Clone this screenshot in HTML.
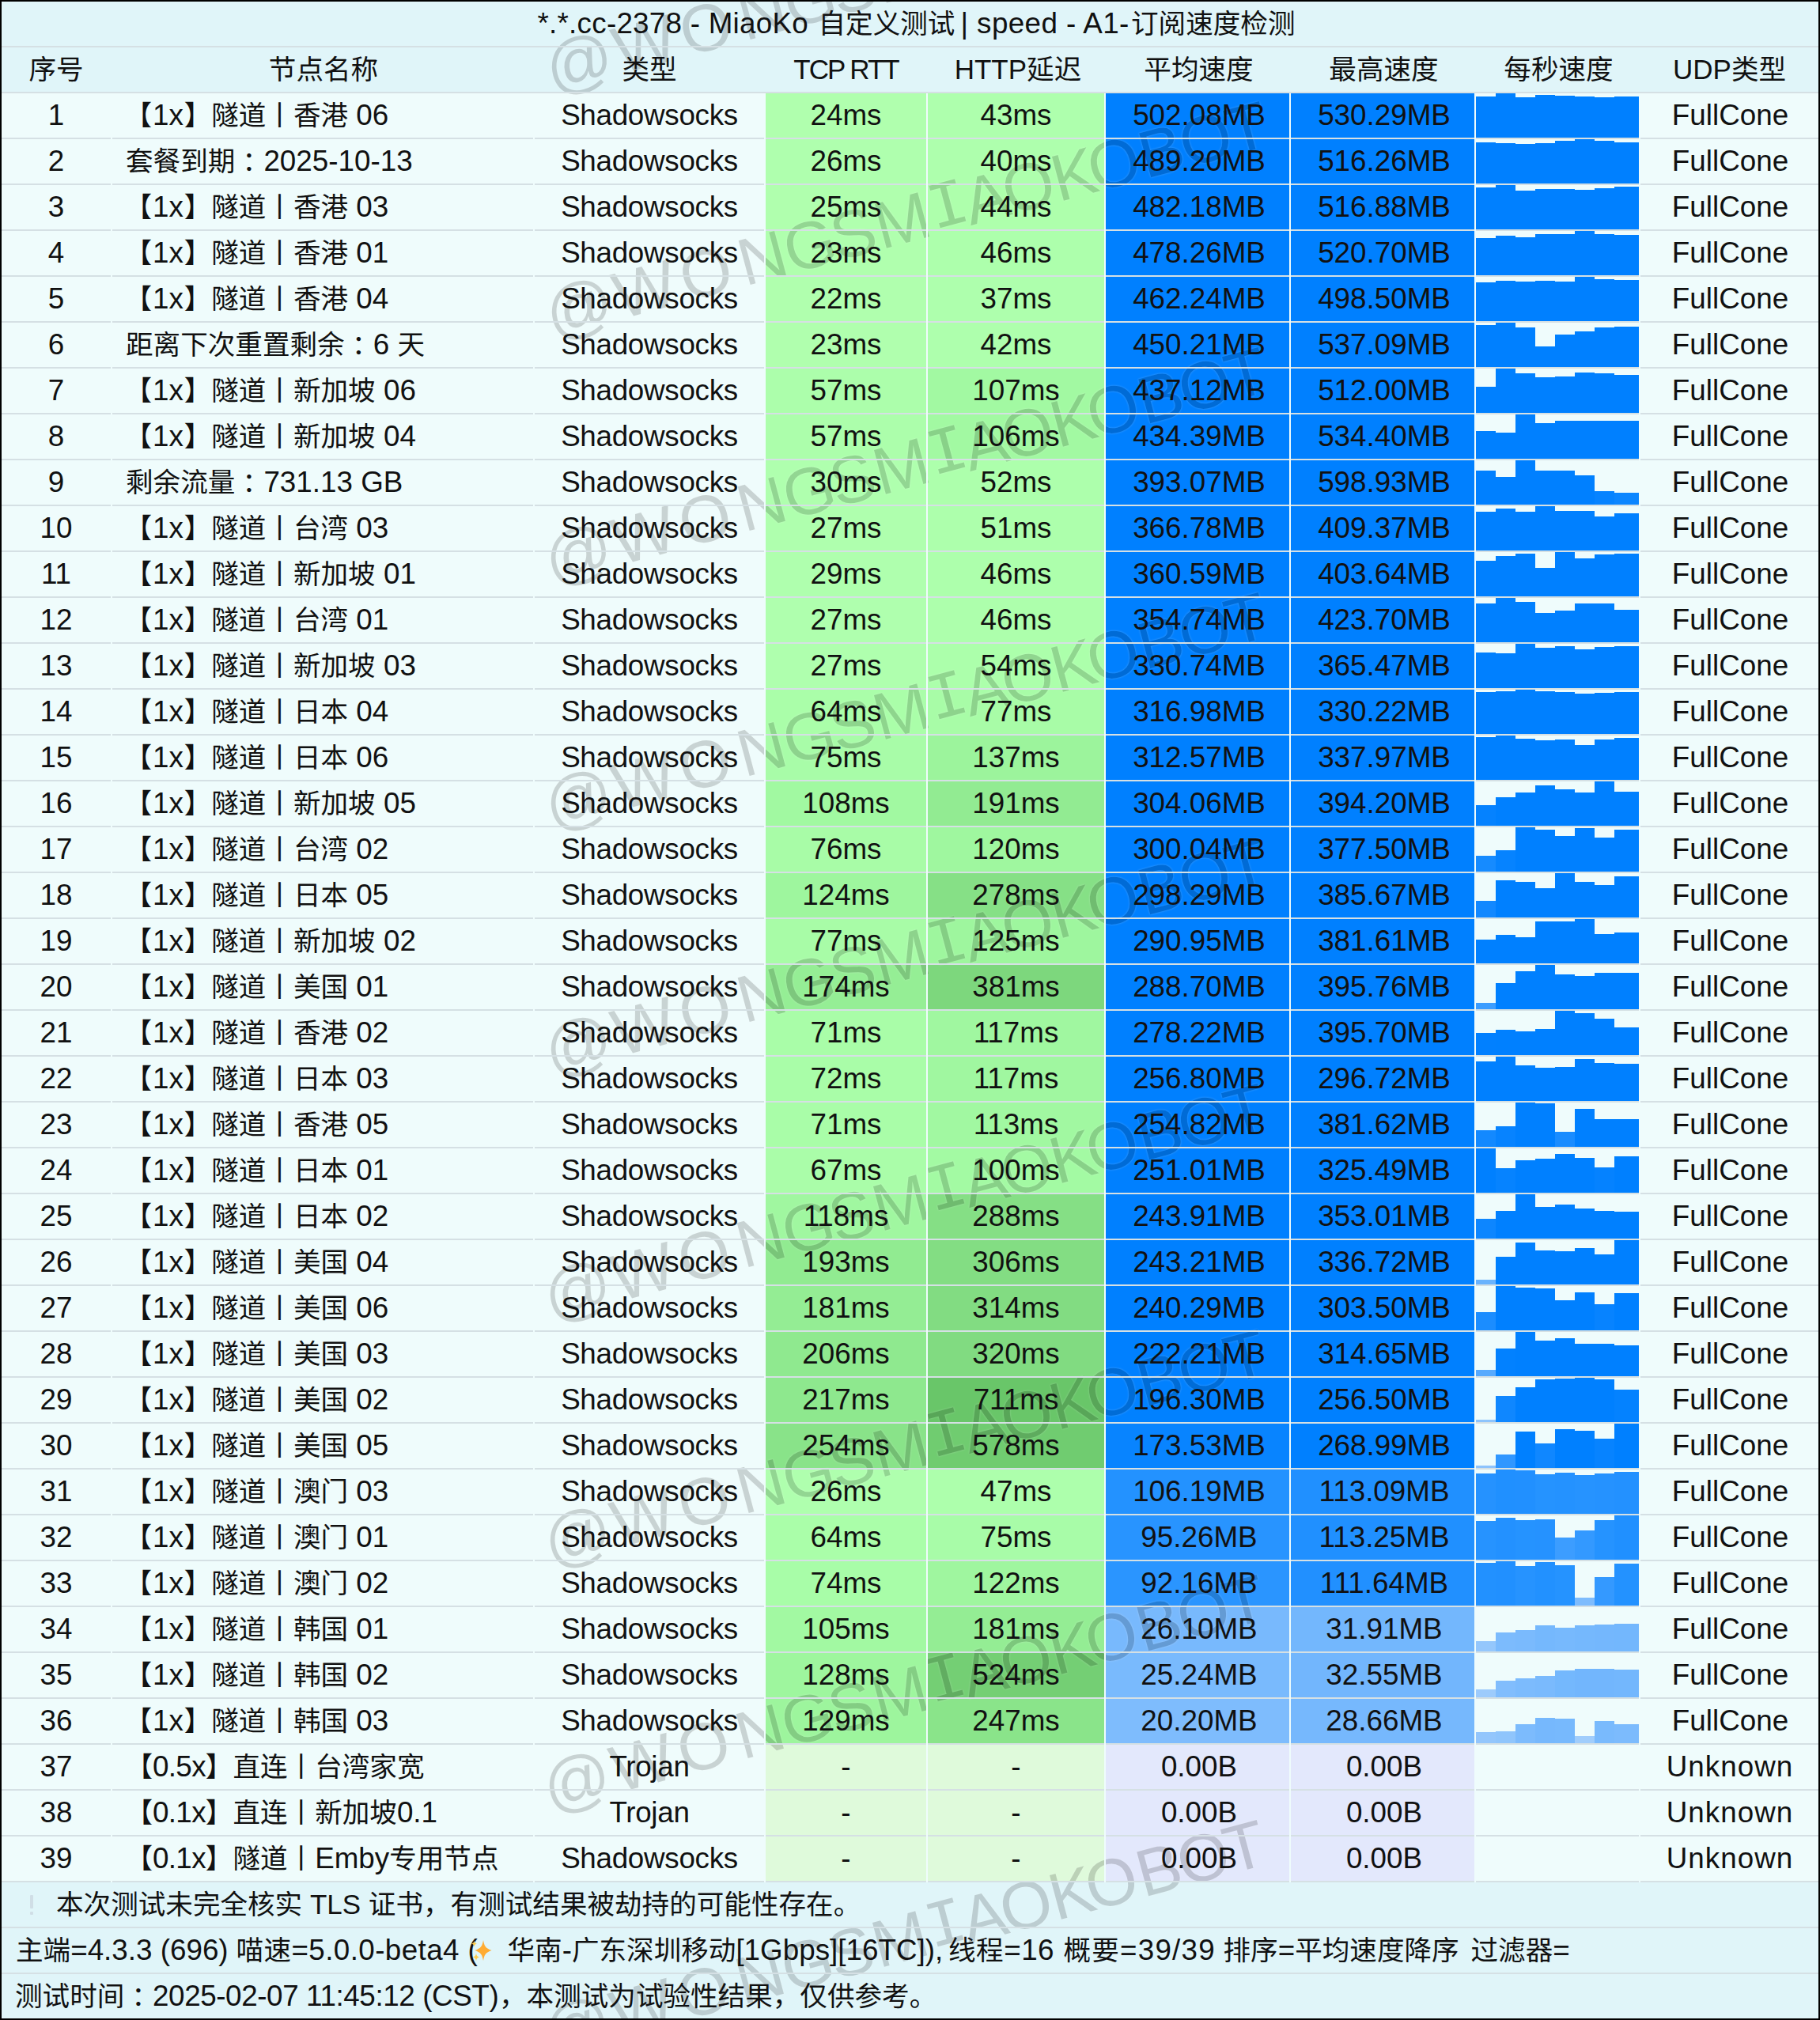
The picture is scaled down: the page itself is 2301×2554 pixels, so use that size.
<!DOCTYPE html><html lang="zh"><head><meta charset="utf-8"><title>MiaoKo speed</title><style>
html,body{margin:0;padding:0}
body{width:2301px;height:2554px;background:#000;position:relative;overflow:hidden;font-family:"Liberation Sans","Noto Sans CJK SC",sans-serif;font-size:35px;color:#111}
#p{position:absolute;left:2px;top:2px;width:2297px;height:2550px;background:#e0f5f9;overflow:hidden}
#p div{position:absolute}
.rb{left:0;width:2297px;height:58px;background:#effcfc}
.hl{left:0;width:2297px;height:2px;background:#d5e0e4}
.vl{top:116px;height:2262px;width:2px;background:#effcfc}
.c{height:56px}
.b{width:25px}
.t{height:58px;line-height:58px;font-size:34.6px;white-space:pre;text-align:center}
.l{font-size:36.8px;line-height:0}
.lh{font-size:35px;line-height:0}
.cn{position:relative;left:9px;margin-right:1.5px}
.f{margin:0 .8px}
.g{letter-spacing:-.7px}
.n{text-align:left}
.wm{width:0;height:100px;line-height:100px;font-size:84px;color:#000;text-shadow:0 0 2px #fff,0 0 3px #fff;opacity:.155;transform-origin:0 50%;transform:rotate(-15deg);white-space:pre;font-family:"Liberation Sans",sans-serif}
.wm span{position:absolute;top:0;width:120px;margin-left:-60px;text-align:center}
</style></head><body><div id="p">
<div class="rb" style="top:115px;height:2262px"></div>
<div class="c" style="left:966px;top:116px;width:203px;background:#b0ffae"></div>
<div class="c" style="left:1171px;top:116px;width:223px;background:#aeffad"></div>
<div class="c" style="left:1396px;top:116px;width:232px;background:#0080ff"></div>
<div class="c" style="left:1630px;top:116px;width:232px;background:#0080ff"></div>
<div class="b" style="left:1864px;top:120px;width:25px;height:52px;background:#0080ff"></div>
<div class="b" style="left:1889px;top:116px;width:25px;height:56px;background:#0080ff"></div>
<div class="b" style="left:1914px;top:121px;width:25px;height:51px;background:#0080ff"></div>
<div class="b" style="left:1939px;top:118px;width:25px;height:54px;background:#0080ff"></div>
<div class="b" style="left:1964px;top:119px;width:25px;height:53px;background:#0080ff"></div>
<div class="b" style="left:1989px;top:120px;width:25px;height:52px;background:#0080ff"></div>
<div class="b" style="left:2014px;top:121px;width:25px;height:51px;background:#0080ff"></div>
<div class="b" style="left:2039px;top:120px;width:31px;height:52px;background:#0080ff"></div>
<div class="c" style="left:966px;top:174px;width:203px;background:#afffae"></div>
<div class="c" style="left:1171px;top:174px;width:223px;background:#aeffad"></div>
<div class="c" style="left:1396px;top:174px;width:232px;background:#0080ff"></div>
<div class="c" style="left:1630px;top:174px;width:232px;background:#0080ff"></div>
<div class="b" style="left:1864px;top:178px;width:25px;height:52px;background:#0080ff"></div>
<div class="b" style="left:1889px;top:179px;width:25px;height:51px;background:#0080ff"></div>
<div class="b" style="left:1914px;top:180px;width:25px;height:50px;background:#0080ff"></div>
<div class="b" style="left:1939px;top:179px;width:25px;height:51px;background:#0080ff"></div>
<div class="b" style="left:1964px;top:176px;width:25px;height:54px;background:#0080ff"></div>
<div class="b" style="left:1989px;top:174px;width:25px;height:56px;background:#0080ff"></div>
<div class="b" style="left:2014px;top:176px;width:25px;height:54px;background:#0080ff"></div>
<div class="b" style="left:2039px;top:178px;width:31px;height:52px;background:#0080ff"></div>
<div class="c" style="left:966px;top:232px;width:203px;background:#b0ffae"></div>
<div class="c" style="left:1171px;top:232px;width:223px;background:#aeffac"></div>
<div class="c" style="left:1396px;top:232px;width:232px;background:#0080ff"></div>
<div class="c" style="left:1630px;top:232px;width:232px;background:#0080ff"></div>
<div class="b" style="left:1864px;top:235px;width:25px;height:53px;background:#0080ff"></div>
<div class="b" style="left:1889px;top:232px;width:25px;height:56px;background:#0080ff"></div>
<div class="b" style="left:1914px;top:239px;width:25px;height:49px;background:#0080ff"></div>
<div class="b" style="left:1939px;top:237px;width:25px;height:51px;background:#0080ff"></div>
<div class="b" style="left:1964px;top:237px;width:25px;height:51px;background:#0080ff"></div>
<div class="b" style="left:1989px;top:238px;width:25px;height:50px;background:#0080ff"></div>
<div class="b" style="left:2014px;top:236px;width:25px;height:52px;background:#0080ff"></div>
<div class="b" style="left:2039px;top:234px;width:31px;height:54px;background:#0080ff"></div>
<div class="c" style="left:966px;top:290px;width:203px;background:#b0ffae"></div>
<div class="c" style="left:1171px;top:290px;width:223px;background:#adffac"></div>
<div class="c" style="left:1396px;top:290px;width:232px;background:#0080ff"></div>
<div class="c" style="left:1630px;top:290px;width:232px;background:#0080ff"></div>
<div class="b" style="left:1864px;top:299px;width:25px;height:47px;background:#0080ff"></div>
<div class="b" style="left:1889px;top:296px;width:25px;height:50px;background:#0080ff"></div>
<div class="b" style="left:1914px;top:298px;width:25px;height:48px;background:#0080ff"></div>
<div class="b" style="left:1939px;top:294px;width:25px;height:52px;background:#0080ff"></div>
<div class="b" style="left:1964px;top:294px;width:25px;height:52px;background:#0080ff"></div>
<div class="b" style="left:1989px;top:290px;width:25px;height:56px;background:#0080ff"></div>
<div class="b" style="left:2014px;top:294px;width:25px;height:52px;background:#0080ff"></div>
<div class="b" style="left:2039px;top:295px;width:31px;height:51px;background:#0080ff"></div>
<div class="c" style="left:966px;top:348px;width:203px;background:#b0ffae"></div>
<div class="c" style="left:1171px;top:348px;width:223px;background:#aeffad"></div>
<div class="c" style="left:1396px;top:348px;width:232px;background:#0080ff"></div>
<div class="c" style="left:1630px;top:348px;width:232px;background:#0080ff"></div>
<div class="b" style="left:1864px;top:355px;width:25px;height:49px;background:#0080ff"></div>
<div class="b" style="left:1889px;top:353px;width:25px;height:51px;background:#0080ff"></div>
<div class="b" style="left:1914px;top:354px;width:25px;height:50px;background:#0080ff"></div>
<div class="b" style="left:1939px;top:353px;width:25px;height:51px;background:#0080ff"></div>
<div class="b" style="left:1964px;top:354px;width:25px;height:50px;background:#0080ff"></div>
<div class="b" style="left:1989px;top:348px;width:25px;height:56px;background:#0080ff"></div>
<div class="b" style="left:2014px;top:351px;width:25px;height:53px;background:#0080ff"></div>
<div class="b" style="left:2039px;top:352px;width:31px;height:52px;background:#0080ff"></div>
<div class="c" style="left:966px;top:406px;width:203px;background:#b0ffae"></div>
<div class="c" style="left:1171px;top:406px;width:223px;background:#aeffad"></div>
<div class="c" style="left:1396px;top:406px;width:232px;background:#0080ff"></div>
<div class="c" style="left:1630px;top:406px;width:232px;background:#0080ff"></div>
<div class="b" style="left:1864px;top:409px;width:25px;height:53px;background:#0080ff"></div>
<div class="b" style="left:1889px;top:406px;width:25px;height:56px;background:#0080ff"></div>
<div class="b" style="left:1914px;top:412px;width:25px;height:50px;background:#0080ff"></div>
<div class="b" style="left:1939px;top:436px;width:25px;height:26px;background:#0080ff"></div>
<div class="b" style="left:1964px;top:421px;width:25px;height:41px;background:#0080ff"></div>
<div class="b" style="left:1989px;top:417px;width:25px;height:45px;background:#0080ff"></div>
<div class="b" style="left:2014px;top:412px;width:25px;height:50px;background:#0080ff"></div>
<div class="b" style="left:2039px;top:411px;width:31px;height:51px;background:#0080ff"></div>
<div class="c" style="left:966px;top:464px;width:203px;background:#acfeab"></div>
<div class="c" style="left:1171px;top:464px;width:223px;background:#a2f9a2"></div>
<div class="c" style="left:1396px;top:464px;width:232px;background:#0080ff"></div>
<div class="c" style="left:1630px;top:464px;width:232px;background:#0080ff"></div>
<div class="b" style="left:1864px;top:487px;width:25px;height:33px;background:#0080ff"></div>
<div class="b" style="left:1889px;top:464px;width:25px;height:56px;background:#0080ff"></div>
<div class="b" style="left:1914px;top:470px;width:25px;height:50px;background:#0080ff"></div>
<div class="b" style="left:1939px;top:475px;width:25px;height:45px;background:#0080ff"></div>
<div class="b" style="left:1964px;top:474px;width:25px;height:46px;background:#0080ff"></div>
<div class="b" style="left:1989px;top:469px;width:25px;height:51px;background:#0080ff"></div>
<div class="b" style="left:2014px;top:470px;width:25px;height:50px;background:#0080ff"></div>
<div class="b" style="left:2039px;top:472px;width:31px;height:48px;background:#0080ff"></div>
<div class="c" style="left:966px;top:522px;width:203px;background:#acfeab"></div>
<div class="c" style="left:1171px;top:522px;width:223px;background:#a2f9a2"></div>
<div class="c" style="left:1396px;top:522px;width:232px;background:#0080ff"></div>
<div class="c" style="left:1630px;top:522px;width:232px;background:#0080ff"></div>
<div class="b" style="left:1864px;top:543px;width:25px;height:35px;background:#0080ff"></div>
<div class="b" style="left:1889px;top:545px;width:25px;height:33px;background:#0080ff"></div>
<div class="b" style="left:1914px;top:522px;width:25px;height:56px;background:#0080ff"></div>
<div class="b" style="left:1939px;top:533px;width:25px;height:45px;background:#0080ff"></div>
<div class="b" style="left:1964px;top:530px;width:25px;height:48px;background:#0080ff"></div>
<div class="b" style="left:1989px;top:530px;width:25px;height:48px;background:#0080ff"></div>
<div class="b" style="left:2014px;top:530px;width:25px;height:48px;background:#0080ff"></div>
<div class="b" style="left:2039px;top:530px;width:31px;height:48px;background:#0080ff"></div>
<div class="c" style="left:966px;top:580px;width:203px;background:#afffae"></div>
<div class="c" style="left:1171px;top:580px;width:223px;background:#adffac"></div>
<div class="c" style="left:1396px;top:580px;width:232px;background:#0080ff"></div>
<div class="c" style="left:1630px;top:580px;width:232px;background:#0080ff"></div>
<div class="b" style="left:1864px;top:593px;width:25px;height:43px;background:#0080ff"></div>
<div class="b" style="left:1889px;top:601px;width:25px;height:35px;background:#0080ff"></div>
<div class="b" style="left:1914px;top:580px;width:25px;height:56px;background:#0080ff"></div>
<div class="b" style="left:1939px;top:593px;width:25px;height:43px;background:#0080ff"></div>
<div class="b" style="left:1964px;top:593px;width:25px;height:43px;background:#0080ff"></div>
<div class="b" style="left:1989px;top:599px;width:25px;height:37px;background:#0080ff"></div>
<div class="b" style="left:2014px;top:619px;width:25px;height:17px;background:#0683ff"></div>
<div class="b" style="left:2039px;top:621px;width:31px;height:15px;background:#0c86ff"></div>
<div class="c" style="left:966px;top:638px;width:203px;background:#afffae"></div>
<div class="c" style="left:1171px;top:638px;width:223px;background:#adffac"></div>
<div class="c" style="left:1396px;top:638px;width:232px;background:#0080ff"></div>
<div class="c" style="left:1630px;top:638px;width:232px;background:#0080ff"></div>
<div class="b" style="left:1864px;top:645px;width:25px;height:49px;background:#0080ff"></div>
<div class="b" style="left:1889px;top:641px;width:25px;height:53px;background:#0080ff"></div>
<div class="b" style="left:1914px;top:645px;width:25px;height:49px;background:#0080ff"></div>
<div class="b" style="left:1939px;top:638px;width:25px;height:56px;background:#0080ff"></div>
<div class="b" style="left:1964px;top:644px;width:25px;height:50px;background:#0080ff"></div>
<div class="b" style="left:1989px;top:644px;width:25px;height:50px;background:#0080ff"></div>
<div class="b" style="left:2014px;top:651px;width:25px;height:43px;background:#0080ff"></div>
<div class="b" style="left:2039px;top:647px;width:31px;height:47px;background:#0080ff"></div>
<div class="c" style="left:966px;top:696px;width:203px;background:#afffae"></div>
<div class="c" style="left:1171px;top:696px;width:223px;background:#adffac"></div>
<div class="c" style="left:1396px;top:696px;width:232px;background:#0080ff"></div>
<div class="c" style="left:1630px;top:696px;width:232px;background:#0080ff"></div>
<div class="b" style="left:1864px;top:707px;width:25px;height:45px;background:#0080ff"></div>
<div class="b" style="left:1889px;top:701px;width:25px;height:51px;background:#0080ff"></div>
<div class="b" style="left:1914px;top:698px;width:25px;height:54px;background:#0080ff"></div>
<div class="b" style="left:1939px;top:716px;width:25px;height:36px;background:#0080ff"></div>
<div class="b" style="left:1964px;top:696px;width:25px;height:56px;background:#0080ff"></div>
<div class="b" style="left:1989px;top:704px;width:25px;height:48px;background:#0080ff"></div>
<div class="b" style="left:2014px;top:699px;width:25px;height:53px;background:#0080ff"></div>
<div class="b" style="left:2039px;top:698px;width:31px;height:54px;background:#0080ff"></div>
<div class="c" style="left:966px;top:754px;width:203px;background:#afffae"></div>
<div class="c" style="left:1171px;top:754px;width:223px;background:#adffac"></div>
<div class="c" style="left:1396px;top:754px;width:232px;background:#0080ff"></div>
<div class="c" style="left:1630px;top:754px;width:232px;background:#0080ff"></div>
<div class="b" style="left:1864px;top:761px;width:25px;height:49px;background:#0080ff"></div>
<div class="b" style="left:1889px;top:754px;width:25px;height:56px;background:#0080ff"></div>
<div class="b" style="left:1914px;top:759px;width:25px;height:51px;background:#0080ff"></div>
<div class="b" style="left:1939px;top:773px;width:25px;height:37px;background:#0080ff"></div>
<div class="b" style="left:1964px;top:770px;width:25px;height:40px;background:#0080ff"></div>
<div class="b" style="left:1989px;top:761px;width:25px;height:49px;background:#0080ff"></div>
<div class="b" style="left:2014px;top:761px;width:25px;height:49px;background:#0080ff"></div>
<div class="b" style="left:2039px;top:769px;width:31px;height:41px;background:#0080ff"></div>
<div class="c" style="left:966px;top:812px;width:203px;background:#afffae"></div>
<div class="c" style="left:1171px;top:812px;width:223px;background:#acffab"></div>
<div class="c" style="left:1396px;top:812px;width:232px;background:#0080ff"></div>
<div class="c" style="left:1630px;top:812px;width:232px;background:#0080ff"></div>
<div class="b" style="left:1864px;top:823px;width:25px;height:45px;background:#0080ff"></div>
<div class="b" style="left:1889px;top:824px;width:25px;height:44px;background:#0080ff"></div>
<div class="b" style="left:1914px;top:812px;width:25px;height:56px;background:#0080ff"></div>
<div class="b" style="left:1939px;top:817px;width:25px;height:51px;background:#0080ff"></div>
<div class="b" style="left:1964px;top:815px;width:25px;height:53px;background:#0080ff"></div>
<div class="b" style="left:1989px;top:819px;width:25px;height:49px;background:#0080ff"></div>
<div class="b" style="left:2014px;top:816px;width:25px;height:52px;background:#0080ff"></div>
<div class="b" style="left:2039px;top:815px;width:31px;height:53px;background:#0080ff"></div>
<div class="c" style="left:966px;top:870px;width:203px;background:#aafea9"></div>
<div class="c" style="left:1171px;top:870px;width:223px;background:#a8fca7"></div>
<div class="c" style="left:1396px;top:870px;width:232px;background:#0080ff"></div>
<div class="c" style="left:1630px;top:870px;width:232px;background:#0080ff"></div>
<div class="b" style="left:1864px;top:873px;width:25px;height:53px;background:#0080ff"></div>
<div class="b" style="left:1889px;top:872px;width:25px;height:54px;background:#0080ff"></div>
<div class="b" style="left:1914px;top:870px;width:25px;height:56px;background:#0080ff"></div>
<div class="b" style="left:1939px;top:872px;width:25px;height:54px;background:#0080ff"></div>
<div class="b" style="left:1964px;top:873px;width:25px;height:53px;background:#0080ff"></div>
<div class="b" style="left:1989px;top:875px;width:25px;height:51px;background:#0080ff"></div>
<div class="b" style="left:2014px;top:874px;width:25px;height:52px;background:#0080ff"></div>
<div class="b" style="left:2039px;top:873px;width:31px;height:53px;background:#0080ff"></div>
<div class="c" style="left:966px;top:928px;width:203px;background:#a8fca8"></div>
<div class="c" style="left:1171px;top:928px;width:223px;background:#9cf49c"></div>
<div class="c" style="left:1396px;top:928px;width:232px;background:#0080ff"></div>
<div class="c" style="left:1630px;top:928px;width:232px;background:#0080ff"></div>
<div class="b" style="left:1864px;top:930px;width:25px;height:54px;background:#0080ff"></div>
<div class="b" style="left:1889px;top:928px;width:25px;height:56px;background:#0080ff"></div>
<div class="b" style="left:1914px;top:932px;width:25px;height:52px;background:#0080ff"></div>
<div class="b" style="left:1939px;top:934px;width:25px;height:50px;background:#0080ff"></div>
<div class="b" style="left:1964px;top:933px;width:25px;height:51px;background:#0080ff"></div>
<div class="b" style="left:1989px;top:940px;width:25px;height:44px;background:#0080ff"></div>
<div class="b" style="left:2014px;top:933px;width:25px;height:51px;background:#0080ff"></div>
<div class="b" style="left:2039px;top:931px;width:31px;height:53px;background:#0080ff"></div>
<div class="c" style="left:966px;top:986px;width:203px;background:#a1f9a1"></div>
<div class="c" style="left:1171px;top:986px;width:223px;background:#92eb92"></div>
<div class="c" style="left:1396px;top:986px;width:232px;background:#0080ff"></div>
<div class="c" style="left:1630px;top:986px;width:232px;background:#0080ff"></div>
<div class="b" style="left:1864px;top:1016px;width:25px;height:26px;background:#0582ff"></div>
<div class="b" style="left:1889px;top:1006px;width:25px;height:36px;background:#0080ff"></div>
<div class="b" style="left:1914px;top:1000px;width:25px;height:42px;background:#0080ff"></div>
<div class="b" style="left:1939px;top:991px;width:25px;height:51px;background:#0080ff"></div>
<div class="b" style="left:1964px;top:996px;width:25px;height:46px;background:#0080ff"></div>
<div class="b" style="left:1989px;top:1000px;width:25px;height:42px;background:#0080ff"></div>
<div class="b" style="left:2014px;top:986px;width:25px;height:56px;background:#0080ff"></div>
<div class="b" style="left:2039px;top:999px;width:31px;height:43px;background:#0080ff"></div>
<div class="c" style="left:966px;top:1044px;width:203px;background:#a8fca7"></div>
<div class="c" style="left:1171px;top:1044px;width:223px;background:#9ff79f"></div>
<div class="c" style="left:1396px;top:1044px;width:232px;background:#0080ff"></div>
<div class="c" style="left:1630px;top:1044px;width:232px;background:#0080ff"></div>
<div class="b" style="left:1864px;top:1080px;width:25px;height:20px;background:#168bff"></div>
<div class="b" style="left:1889px;top:1073px;width:25px;height:27px;background:#0683ff"></div>
<div class="b" style="left:1914px;top:1044px;width:25px;height:56px;background:#0080ff"></div>
<div class="b" style="left:1939px;top:1047px;width:25px;height:53px;background:#0080ff"></div>
<div class="b" style="left:1964px;top:1055px;width:25px;height:45px;background:#0080ff"></div>
<div class="b" style="left:1989px;top:1045px;width:25px;height:55px;background:#0080ff"></div>
<div class="b" style="left:2014px;top:1057px;width:25px;height:43px;background:#0080ff"></div>
<div class="b" style="left:2039px;top:1047px;width:31px;height:53px;background:#0080ff"></div>
<div class="c" style="left:966px;top:1102px;width:203px;background:#9ef69e"></div>
<div class="c" style="left:1171px;top:1102px;width:223px;background:#86e086"></div>
<div class="c" style="left:1396px;top:1102px;width:232px;background:#0080ff"></div>
<div class="c" style="left:1630px;top:1102px;width:232px;background:#0080ff"></div>
<div class="b" style="left:1864px;top:1137px;width:25px;height:21px;background:#1288ff"></div>
<div class="b" style="left:1889px;top:1111px;width:25px;height:47px;background:#0080ff"></div>
<div class="b" style="left:1914px;top:1113px;width:25px;height:45px;background:#0080ff"></div>
<div class="b" style="left:1939px;top:1121px;width:25px;height:37px;background:#0080ff"></div>
<div class="b" style="left:1964px;top:1102px;width:25px;height:56px;background:#0080ff"></div>
<div class="b" style="left:1989px;top:1113px;width:25px;height:45px;background:#0080ff"></div>
<div class="b" style="left:2014px;top:1117px;width:25px;height:41px;background:#0080ff"></div>
<div class="b" style="left:2039px;top:1106px;width:31px;height:52px;background:#0080ff"></div>
<div class="c" style="left:966px;top:1160px;width:203px;background:#a8fca7"></div>
<div class="c" style="left:1171px;top:1160px;width:223px;background:#9ef69e"></div>
<div class="c" style="left:1396px;top:1160px;width:232px;background:#0080ff"></div>
<div class="c" style="left:1630px;top:1160px;width:232px;background:#0080ff"></div>
<div class="b" style="left:1864px;top:1186px;width:25px;height:30px;background:#0080ff"></div>
<div class="b" style="left:1889px;top:1180px;width:25px;height:36px;background:#0080ff"></div>
<div class="b" style="left:1914px;top:1183px;width:25px;height:33px;background:#0080ff"></div>
<div class="b" style="left:1939px;top:1163px;width:25px;height:53px;background:#0080ff"></div>
<div class="b" style="left:1964px;top:1163px;width:25px;height:53px;background:#0080ff"></div>
<div class="b" style="left:1989px;top:1160px;width:25px;height:56px;background:#0080ff"></div>
<div class="b" style="left:2014px;top:1179px;width:25px;height:37px;background:#0080ff"></div>
<div class="b" style="left:2039px;top:1177px;width:31px;height:39px;background:#0080ff"></div>
<div class="c" style="left:966px;top:1218px;width:203px;background:#95ee95"></div>
<div class="c" style="left:1171px;top:1218px;width:223px;background:#7dd77d"></div>
<div class="c" style="left:1396px;top:1218px;width:232px;background:#0080ff"></div>
<div class="c" style="left:1630px;top:1218px;width:232px;background:#0080ff"></div>
<div class="b" style="left:1864px;top:1266px;width:25px;height:8px;background:#3c9dff"></div>
<div class="b" style="left:1889px;top:1241px;width:25px;height:33px;background:#0080ff"></div>
<div class="b" style="left:1914px;top:1226px;width:25px;height:48px;background:#0080ff"></div>
<div class="b" style="left:1939px;top:1218px;width:25px;height:56px;background:#0080ff"></div>
<div class="b" style="left:1964px;top:1230px;width:25px;height:44px;background:#0080ff"></div>
<div class="b" style="left:1989px;top:1232px;width:25px;height:42px;background:#0080ff"></div>
<div class="b" style="left:2014px;top:1228px;width:25px;height:46px;background:#0080ff"></div>
<div class="b" style="left:2039px;top:1228px;width:31px;height:46px;background:#0080ff"></div>
<div class="c" style="left:966px;top:1276px;width:203px;background:#a9fda8"></div>
<div class="c" style="left:1171px;top:1276px;width:223px;background:#a0f7a0"></div>
<div class="c" style="left:1396px;top:1276px;width:232px;background:#0080ff"></div>
<div class="c" style="left:1630px;top:1276px;width:232px;background:#0080ff"></div>
<div class="b" style="left:1864px;top:1304px;width:25px;height:28px;background:#0180ff"></div>
<div class="b" style="left:1889px;top:1300px;width:25px;height:32px;background:#0080ff"></div>
<div class="b" style="left:1914px;top:1302px;width:25px;height:30px;background:#0080ff"></div>
<div class="b" style="left:1939px;top:1299px;width:25px;height:33px;background:#0080ff"></div>
<div class="b" style="left:1964px;top:1276px;width:25px;height:56px;background:#0080ff"></div>
<div class="b" style="left:1989px;top:1279px;width:25px;height:53px;background:#0080ff"></div>
<div class="b" style="left:2014px;top:1286px;width:25px;height:46px;background:#0080ff"></div>
<div class="b" style="left:2039px;top:1297px;width:31px;height:35px;background:#0080ff"></div>
<div class="c" style="left:966px;top:1334px;width:203px;background:#a9fda8"></div>
<div class="c" style="left:1171px;top:1334px;width:223px;background:#a0f7a0"></div>
<div class="c" style="left:1396px;top:1334px;width:232px;background:#0080ff"></div>
<div class="c" style="left:1630px;top:1334px;width:232px;background:#0080ff"></div>
<div class="b" style="left:1864px;top:1340px;width:25px;height:50px;background:#0080ff"></div>
<div class="b" style="left:1889px;top:1334px;width:25px;height:56px;background:#0080ff"></div>
<div class="b" style="left:1914px;top:1345px;width:25px;height:45px;background:#0080ff"></div>
<div class="b" style="left:1939px;top:1348px;width:25px;height:42px;background:#0080ff"></div>
<div class="b" style="left:1964px;top:1347px;width:25px;height:43px;background:#0080ff"></div>
<div class="b" style="left:1989px;top:1337px;width:25px;height:53px;background:#0080ff"></div>
<div class="b" style="left:2014px;top:1342px;width:25px;height:48px;background:#0080ff"></div>
<div class="b" style="left:2039px;top:1343px;width:31px;height:47px;background:#0080ff"></div>
<div class="c" style="left:966px;top:1392px;width:203px;background:#a9fda8"></div>
<div class="c" style="left:1171px;top:1392px;width:223px;background:#a1f8a1"></div>
<div class="c" style="left:1396px;top:1392px;width:232px;background:#0080ff"></div>
<div class="c" style="left:1630px;top:1392px;width:232px;background:#0080ff"></div>
<div class="b" style="left:1864px;top:1427px;width:25px;height:21px;background:#1389ff"></div>
<div class="b" style="left:1889px;top:1422px;width:25px;height:26px;background:#0783ff"></div>
<div class="b" style="left:1914px;top:1392px;width:25px;height:56px;background:#0080ff"></div>
<div class="b" style="left:1939px;top:1393px;width:25px;height:55px;background:#0080ff"></div>
<div class="b" style="left:1964px;top:1429px;width:25px;height:19px;background:#198cff"></div>
<div class="b" style="left:1989px;top:1400px;width:25px;height:48px;background:#0080ff"></div>
<div class="b" style="left:2014px;top:1413px;width:25px;height:35px;background:#0080ff"></div>
<div class="b" style="left:2039px;top:1413px;width:31px;height:35px;background:#0080ff"></div>
<div class="c" style="left:966px;top:1450px;width:203px;background:#aafda9"></div>
<div class="c" style="left:1171px;top:1450px;width:223px;background:#a3faa3"></div>
<div class="c" style="left:1396px;top:1450px;width:232px;background:#0080ff"></div>
<div class="c" style="left:1630px;top:1450px;width:232px;background:#0080ff"></div>
<div class="b" style="left:1864px;top:1450px;width:25px;height:56px;background:#0080ff"></div>
<div class="b" style="left:1889px;top:1475px;width:25px;height:31px;background:#0683ff"></div>
<div class="b" style="left:1914px;top:1465px;width:25px;height:41px;background:#0080ff"></div>
<div class="b" style="left:1939px;top:1463px;width:25px;height:43px;background:#0080ff"></div>
<div class="b" style="left:1964px;top:1457px;width:25px;height:49px;background:#0080ff"></div>
<div class="b" style="left:1989px;top:1462px;width:25px;height:44px;background:#0080ff"></div>
<div class="b" style="left:2014px;top:1474px;width:25px;height:32px;background:#0582ff"></div>
<div class="b" style="left:2039px;top:1460px;width:31px;height:46px;background:#0080ff"></div>
<div class="c" style="left:966px;top:1508px;width:203px;background:#a0f7a0"></div>
<div class="c" style="left:1171px;top:1508px;width:223px;background:#85df85"></div>
<div class="c" style="left:1396px;top:1508px;width:232px;background:#0080ff"></div>
<div class="c" style="left:1630px;top:1508px;width:232px;background:#0080ff"></div>
<div class="b" style="left:1864px;top:1539px;width:25px;height:25px;background:#0d86ff"></div>
<div class="b" style="left:1889px;top:1529px;width:25px;height:35px;background:#0080ff"></div>
<div class="b" style="left:1914px;top:1508px;width:25px;height:56px;background:#0080ff"></div>
<div class="b" style="left:1939px;top:1524px;width:25px;height:40px;background:#0080ff"></div>
<div class="b" style="left:1964px;top:1521px;width:25px;height:43px;background:#0080ff"></div>
<div class="b" style="left:1989px;top:1526px;width:25px;height:38px;background:#0080ff"></div>
<div class="b" style="left:2014px;top:1529px;width:25px;height:35px;background:#0080ff"></div>
<div class="b" style="left:2039px;top:1530px;width:31px;height:34px;background:#0080ff"></div>
<div class="c" style="left:966px;top:1566px;width:203px;background:#91eb91"></div>
<div class="c" style="left:1171px;top:1566px;width:223px;background:#83dd83"></div>
<div class="c" style="left:1396px;top:1566px;width:232px;background:#0080ff"></div>
<div class="c" style="left:1630px;top:1566px;width:232px;background:#0080ff"></div>
<div class="b" style="left:1864px;top:1616px;width:25px;height:6px;background:#6ab3fd"></div>
<div class="b" style="left:1889px;top:1587px;width:25px;height:35px;background:#0080ff"></div>
<div class="b" style="left:1914px;top:1569px;width:25px;height:53px;background:#0080ff"></div>
<div class="b" style="left:1939px;top:1579px;width:25px;height:43px;background:#0080ff"></div>
<div class="b" style="left:1964px;top:1580px;width:25px;height:42px;background:#0080ff"></div>
<div class="b" style="left:1989px;top:1576px;width:25px;height:46px;background:#0080ff"></div>
<div class="b" style="left:2014px;top:1584px;width:25px;height:38px;background:#0080ff"></div>
<div class="b" style="left:2039px;top:1566px;width:31px;height:56px;background:#0080ff"></div>
<div class="c" style="left:966px;top:1624px;width:203px;background:#94ed94"></div>
<div class="c" style="left:1171px;top:1624px;width:223px;background:#82dc82"></div>
<div class="c" style="left:1396px;top:1624px;width:232px;background:#0080ff"></div>
<div class="c" style="left:1630px;top:1624px;width:232px;background:#0080ff"></div>
<div class="b" style="left:1864px;top:1657px;width:25px;height:23px;background:#1b8dff"></div>
<div class="b" style="left:1889px;top:1624px;width:25px;height:56px;background:#0080ff"></div>
<div class="b" style="left:1914px;top:1626px;width:25px;height:54px;background:#0080ff"></div>
<div class="b" style="left:1939px;top:1627px;width:25px;height:53px;background:#0080ff"></div>
<div class="b" style="left:1964px;top:1642px;width:25px;height:38px;background:#0080ff"></div>
<div class="b" style="left:1989px;top:1632px;width:25px;height:48px;background:#0080ff"></div>
<div class="b" style="left:2014px;top:1647px;width:25px;height:33px;background:#0783ff"></div>
<div class="b" style="left:2039px;top:1633px;width:31px;height:47px;background:#0080ff"></div>
<div class="c" style="left:966px;top:1682px;width:203px;background:#8fe98f"></div>
<div class="c" style="left:1171px;top:1682px;width:223px;background:#81db81"></div>
<div class="c" style="left:1396px;top:1682px;width:232px;background:#0080ff"></div>
<div class="c" style="left:1630px;top:1682px;width:232px;background:#0080ff"></div>
<div class="b" style="left:1864px;top:1730px;width:25px;height:8px;background:#57aafe"></div>
<div class="b" style="left:1889px;top:1703px;width:25px;height:35px;background:#0281ff"></div>
<div class="b" style="left:1914px;top:1682px;width:25px;height:56px;background:#0080ff"></div>
<div class="b" style="left:1939px;top:1693px;width:25px;height:45px;background:#0080ff"></div>
<div class="b" style="left:1964px;top:1690px;width:25px;height:48px;background:#0080ff"></div>
<div class="b" style="left:1989px;top:1697px;width:25px;height:41px;background:#0080ff"></div>
<div class="b" style="left:2014px;top:1697px;width:25px;height:41px;background:#0080ff"></div>
<div class="b" style="left:2039px;top:1699px;width:31px;height:39px;background:#0080ff"></div>
<div class="c" style="left:966px;top:1740px;width:203px;background:#8ee88e"></div>
<div class="c" style="left:1171px;top:1740px;width:223px;background:#69c669"></div>
<div class="c" style="left:1396px;top:1740px;width:232px;background:#0181ff"></div>
<div class="c" style="left:1630px;top:1740px;width:232px;background:#0080ff"></div>
<div class="b" style="left:1864px;top:1793px;width:25px;height:3px;background:#8dc4fc"></div>
<div class="b" style="left:1889px;top:1763px;width:25px;height:33px;background:#0f87ff"></div>
<div class="b" style="left:1914px;top:1752px;width:25px;height:44px;background:#0080ff"></div>
<div class="b" style="left:1939px;top:1742px;width:25px;height:54px;background:#0080ff"></div>
<div class="b" style="left:1964px;top:1741px;width:25px;height:55px;background:#0080ff"></div>
<div class="b" style="left:1989px;top:1740px;width:25px;height:56px;background:#0080ff"></div>
<div class="b" style="left:2014px;top:1742px;width:25px;height:54px;background:#0080ff"></div>
<div class="b" style="left:2039px;top:1755px;width:31px;height:41px;background:#0482ff"></div>
<div class="c" style="left:966px;top:1798px;width:203px;background:#89e389"></div>
<div class="c" style="left:1171px;top:1798px;width:223px;background:#70cc70"></div>
<div class="c" style="left:1396px;top:1798px;width:232px;background:#0884ff"></div>
<div class="c" style="left:1630px;top:1798px;width:232px;background:#0080ff"></div>
<div class="b" style="left:1864px;top:1851px;width:25px;height:3px;background:#8dc3fc"></div>
<div class="b" style="left:1889px;top:1837px;width:25px;height:17px;background:#3097ff"></div>
<div class="b" style="left:1914px;top:1808px;width:25px;height:46px;background:#0080ff"></div>
<div class="b" style="left:1939px;top:1823px;width:25px;height:31px;background:#1087ff"></div>
<div class="b" style="left:1964px;top:1805px;width:25px;height:49px;background:#0080ff"></div>
<div class="b" style="left:1989px;top:1807px;width:25px;height:47px;background:#0080ff"></div>
<div class="b" style="left:2014px;top:1817px;width:25px;height:37px;background:#0783ff"></div>
<div class="b" style="left:2039px;top:1798px;width:31px;height:56px;background:#0080ff"></div>
<div class="c" style="left:966px;top:1856px;width:203px;background:#afffae"></div>
<div class="c" style="left:1171px;top:1856px;width:223px;background:#adffac"></div>
<div class="c" style="left:1396px;top:1856px;width:232px;background:#2392ff"></div>
<div class="c" style="left:1630px;top:1856px;width:232px;background:#2090ff"></div>
<div class="b" style="left:1864px;top:1861px;width:25px;height:51px;background:#2592ff"></div>
<div class="b" style="left:1889px;top:1856px;width:25px;height:56px;background:#2090ff"></div>
<div class="b" style="left:1914px;top:1857px;width:25px;height:55px;background:#2190ff"></div>
<div class="b" style="left:1939px;top:1862px;width:25px;height:50px;background:#2593ff"></div>
<div class="b" style="left:1964px;top:1860px;width:25px;height:52px;background:#2492ff"></div>
<div class="b" style="left:1989px;top:1863px;width:25px;height:49px;background:#2693ff"></div>
<div class="b" style="left:2014px;top:1861px;width:25px;height:51px;background:#2592ff"></div>
<div class="b" style="left:2039px;top:1859px;width:31px;height:53px;background:#2391ff"></div>
<div class="c" style="left:966px;top:1914px;width:203px;background:#aafea9"></div>
<div class="c" style="left:1171px;top:1914px;width:223px;background:#a8fca8"></div>
<div class="c" style="left:1396px;top:1914px;width:232px;background:#2894ff"></div>
<div class="c" style="left:1630px;top:1914px;width:232px;background:#2090ff"></div>
<div class="b" style="left:1864px;top:1921px;width:25px;height:49px;background:#2693ff"></div>
<div class="b" style="left:1889px;top:1917px;width:25px;height:53px;background:#2391ff"></div>
<div class="b" style="left:1914px;top:1920px;width:25px;height:50px;background:#2593ff"></div>
<div class="b" style="left:1939px;top:1919px;width:25px;height:51px;background:#2592ff"></div>
<div class="b" style="left:1964px;top:1942px;width:25px;height:28px;background:#3c9dff"></div>
<div class="b" style="left:1989px;top:1933px;width:25px;height:37px;background:#3399ff"></div>
<div class="b" style="left:2014px;top:1920px;width:25px;height:50px;background:#2593ff"></div>
<div class="b" style="left:2039px;top:1914px;width:31px;height:56px;background:#2090ff"></div>
<div class="c" style="left:966px;top:1972px;width:203px;background:#a8fda8"></div>
<div class="c" style="left:1171px;top:1972px;width:223px;background:#9ff69f"></div>
<div class="c" style="left:1396px;top:1972px;width:232px;background:#2a95ff"></div>
<div class="c" style="left:1630px;top:1972px;width:232px;background:#2190ff"></div>
<div class="b" style="left:1864px;top:1974px;width:25px;height:54px;background:#2291ff"></div>
<div class="b" style="left:1889px;top:1972px;width:25px;height:56px;background:#2190ff"></div>
<div class="b" style="left:1914px;top:1978px;width:25px;height:50px;background:#2693ff"></div>
<div class="b" style="left:1939px;top:1973px;width:25px;height:55px;background:#2291ff"></div>
<div class="b" style="left:1964px;top:1977px;width:25px;height:51px;background:#2593ff"></div>
<div class="b" style="left:1989px;top:2018px;width:25px;height:10px;background:#7ebcfd"></div>
<div class="b" style="left:2014px;top:1992px;width:25px;height:36px;background:#3499ff"></div>
<div class="b" style="left:2039px;top:1975px;width:31px;height:53px;background:#2392ff"></div>
<div class="c" style="left:966px;top:2030px;width:203px;background:#a2f9a2"></div>
<div class="c" style="left:1171px;top:2030px;width:223px;background:#94ed94"></div>
<div class="c" style="left:1396px;top:2030px;width:232px;background:#78b9fd"></div>
<div class="c" style="left:1630px;top:2030px;width:232px;background:#73b7fd"></div>
<div class="b" style="left:1864px;top:2073px;width:25px;height:13px;background:#94c7fc"></div>
<div class="b" style="left:1889px;top:2062px;width:25px;height:24px;background:#7cbbfd"></div>
<div class="b" style="left:1914px;top:2059px;width:25px;height:27px;background:#7abafd"></div>
<div class="b" style="left:1939px;top:2053px;width:25px;height:33px;background:#75b8fd"></div>
<div class="b" style="left:1964px;top:2056px;width:25px;height:30px;background:#77b9fd"></div>
<div class="b" style="left:1989px;top:2053px;width:25px;height:33px;background:#75b8fd"></div>
<div class="b" style="left:2014px;top:2052px;width:25px;height:34px;background:#74b7fd"></div>
<div class="b" style="left:2039px;top:2051px;width:31px;height:35px;background:#73b7fd"></div>
<div class="c" style="left:966px;top:2088px;width:203px;background:#9ef69e"></div>
<div class="c" style="left:1171px;top:2088px;width:223px;background:#74cf74"></div>
<div class="c" style="left:1396px;top:2088px;width:232px;background:#79bafd"></div>
<div class="c" style="left:1630px;top:2088px;width:232px;background:#72b6fd"></div>
<div class="b" style="left:1864px;top:2134px;width:25px;height:10px;background:#9dcbfc"></div>
<div class="b" style="left:1889px;top:2123px;width:25px;height:21px;background:#81bdfd"></div>
<div class="b" style="left:1914px;top:2120px;width:25px;height:24px;background:#7cbbfd"></div>
<div class="b" style="left:1939px;top:2117px;width:25px;height:27px;background:#7abafd"></div>
<div class="b" style="left:1964px;top:2110px;width:25px;height:34px;background:#74b8fd"></div>
<div class="b" style="left:1989px;top:2108px;width:25px;height:36px;background:#72b6fd"></div>
<div class="b" style="left:2014px;top:2108px;width:25px;height:36px;background:#72b6fd"></div>
<div class="b" style="left:2039px;top:2109px;width:31px;height:35px;background:#73b7fd"></div>
<div class="c" style="left:966px;top:2146px;width:203px;background:#9df59d"></div>
<div class="c" style="left:1171px;top:2146px;width:223px;background:#8ae48a"></div>
<div class="c" style="left:1396px;top:2146px;width:232px;background:#7ebcfd"></div>
<div class="c" style="left:1630px;top:2146px;width:232px;background:#76b8fd"></div>
<div class="b" style="left:1864px;top:2188px;width:25px;height:14px;background:#93c6fc"></div>
<div class="b" style="left:1889px;top:2187px;width:25px;height:15px;background:#8fc5fc"></div>
<div class="b" style="left:1914px;top:2178px;width:25px;height:24px;background:#7cbbfd"></div>
<div class="b" style="left:1939px;top:2170px;width:25px;height:32px;background:#76b8fd"></div>
<div class="b" style="left:1964px;top:2171px;width:25px;height:31px;background:#77b9fd"></div>
<div class="b" style="left:1989px;top:2193px;width:25px;height:9px;background:#a0cdfc"></div>
<div class="b" style="left:2014px;top:2174px;width:25px;height:28px;background:#79bafd"></div>
<div class="b" style="left:2039px;top:2178px;width:31px;height:24px;background:#7cbbfd"></div>
<div class="c" style="left:966px;top:2204px;width:203px;background:#dffadb"></div>
<div class="c" style="left:1171px;top:2204px;width:223px;background:#dffadb"></div>
<div class="c" style="left:1396px;top:2204px;width:232px;background:#e3e8fc"></div>
<div class="c" style="left:1630px;top:2204px;width:232px;background:#e3e8fc"></div>
<div class="c" style="left:966px;top:2262px;width:203px;background:#dffadb"></div>
<div class="c" style="left:1171px;top:2262px;width:223px;background:#dffadb"></div>
<div class="c" style="left:1396px;top:2262px;width:232px;background:#e3e8fc"></div>
<div class="c" style="left:1630px;top:2262px;width:232px;background:#e3e8fc"></div>
<div class="c" style="left:966px;top:2320px;width:203px;background:#dffadb"></div>
<div class="c" style="left:1171px;top:2320px;width:223px;background:#dffadb"></div>
<div class="c" style="left:1396px;top:2320px;width:232px;background:#e3e8fc"></div>
<div class="c" style="left:1630px;top:2320px;width:232px;background:#e3e8fc"></div>
<div class="wm" aria-label="@WONGSMIAOKOBOT" style="left:729.9px;top:25.9px"><span style="left:0px">@</span><span style="left:86px">W</span><span style="left:166px">O</span><span style="left:240px">N</span><span style="left:302px">G</span><span style="left:359px">S</span><span style="left:423px">M</span><span style="left:484px;font-family:'Liberation Mono',monospace">I</span><span style="left:533px">A</span><span style="left:588px">O</span><span style="left:648px">K</span><span style="left:700px">O</span><span style="left:762px">B</span><span style="left:820px">O</span><span style="left:874px">T</span></div>
<div class="wm" aria-label="@WONGSMIAOKOBOT" style="left:729.5px;top:336.3px"><span style="left:0px">@</span><span style="left:86px">W</span><span style="left:166px">O</span><span style="left:240px">N</span><span style="left:302px">G</span><span style="left:359px">S</span><span style="left:423px">M</span><span style="left:484px;font-family:'Liberation Mono',monospace">I</span><span style="left:533px">A</span><span style="left:588px">O</span><span style="left:648px">K</span><span style="left:700px">O</span><span style="left:762px">B</span><span style="left:820px">O</span><span style="left:874px">T</span></div>
<div class="wm" aria-label="@WONGSMIAOKOBOT" style="left:729.1px;top:646.7px"><span style="left:0px">@</span><span style="left:86px">W</span><span style="left:166px">O</span><span style="left:240px">N</span><span style="left:302px">G</span><span style="left:359px">S</span><span style="left:423px">M</span><span style="left:484px;font-family:'Liberation Mono',monospace">I</span><span style="left:533px">A</span><span style="left:588px">O</span><span style="left:648px">K</span><span style="left:700px">O</span><span style="left:762px">B</span><span style="left:820px">O</span><span style="left:874px">T</span></div>
<div class="wm" aria-label="@WONGSMIAOKOBOT" style="left:728.8px;top:957.2px"><span style="left:0px">@</span><span style="left:86px">W</span><span style="left:166px">O</span><span style="left:240px">N</span><span style="left:302px">G</span><span style="left:359px">S</span><span style="left:423px">M</span><span style="left:484px;font-family:'Liberation Mono',monospace">I</span><span style="left:533px">A</span><span style="left:588px">O</span><span style="left:648px">K</span><span style="left:700px">O</span><span style="left:762px">B</span><span style="left:820px">O</span><span style="left:874px">T</span></div>
<div class="wm" aria-label="@WONGSMIAOKOBOT" style="left:728.5px;top:1267.6px"><span style="left:0px">@</span><span style="left:86px">W</span><span style="left:166px">O</span><span style="left:240px">N</span><span style="left:302px">G</span><span style="left:359px">S</span><span style="left:423px">M</span><span style="left:484px;font-family:'Liberation Mono',monospace">I</span><span style="left:533px">A</span><span style="left:588px">O</span><span style="left:648px">K</span><span style="left:700px">O</span><span style="left:762px">B</span><span style="left:820px">O</span><span style="left:874px">T</span></div>
<div class="wm" aria-label="@WONGSMIAOKOBOT" style="left:728.1px;top:1578.0px"><span style="left:0px">@</span><span style="left:86px">W</span><span style="left:166px">O</span><span style="left:240px">N</span><span style="left:302px">G</span><span style="left:359px">S</span><span style="left:423px">M</span><span style="left:484px;font-family:'Liberation Mono',monospace">I</span><span style="left:533px">A</span><span style="left:588px">O</span><span style="left:648px">K</span><span style="left:700px">O</span><span style="left:762px">B</span><span style="left:820px">O</span><span style="left:874px">T</span></div>
<div class="wm" aria-label="@WONGSMIAOKOBOT" style="left:727.8px;top:1888.5px"><span style="left:0px">@</span><span style="left:86px">W</span><span style="left:166px">O</span><span style="left:240px">N</span><span style="left:302px">G</span><span style="left:359px">S</span><span style="left:423px">M</span><span style="left:484px;font-family:'Liberation Mono',monospace">I</span><span style="left:533px">A</span><span style="left:588px">O</span><span style="left:648px">K</span><span style="left:700px">O</span><span style="left:762px">B</span><span style="left:820px">O</span><span style="left:874px">T</span></div>
<div class="wm" aria-label="@WONGSMIAOKOBOT" style="left:727.4px;top:2198.9px"><span style="left:0px">@</span><span style="left:86px">W</span><span style="left:166px">O</span><span style="left:240px">N</span><span style="left:302px">G</span><span style="left:359px">S</span><span style="left:423px">M</span><span style="left:484px;font-family:'Liberation Mono',monospace">I</span><span style="left:533px">A</span><span style="left:588px">O</span><span style="left:648px">K</span><span style="left:700px">O</span><span style="left:762px">B</span><span style="left:820px">O</span><span style="left:874px">T</span></div>
<div class="wm" aria-label="@WONGSMIAOKOBOT" style="left:727.0px;top:2509.3px"><span style="left:0px">@</span><span style="left:86px">W</span><span style="left:166px">O</span><span style="left:240px">N</span><span style="left:302px">G</span><span style="left:359px">S</span><span style="left:423px">M</span><span style="left:484px;font-family:'Liberation Mono',monospace">I</span><span style="left:533px">A</span><span style="left:588px">O</span><span style="left:648px">K</span><span style="left:700px">O</span><span style="left:762px">B</span><span style="left:820px">O</span><span style="left:874px">T</span></div>
<div class="hl" style="top:56px"></div>
<div class="hl" style="top:114px"></div>
<div class="hl" style="top:172px"></div>
<div class="hl" style="top:230px"></div>
<div class="hl" style="top:288px"></div>
<div class="hl" style="top:346px"></div>
<div class="hl" style="top:404px"></div>
<div class="hl" style="top:462px"></div>
<div class="hl" style="top:520px"></div>
<div class="hl" style="top:578px"></div>
<div class="hl" style="top:636px"></div>
<div class="hl" style="top:694px"></div>
<div class="hl" style="top:752px"></div>
<div class="hl" style="top:810px"></div>
<div class="hl" style="top:868px"></div>
<div class="hl" style="top:926px"></div>
<div class="hl" style="top:984px"></div>
<div class="hl" style="top:1042px"></div>
<div class="hl" style="top:1100px"></div>
<div class="hl" style="top:1158px"></div>
<div class="hl" style="top:1216px"></div>
<div class="hl" style="top:1274px"></div>
<div class="hl" style="top:1332px"></div>
<div class="hl" style="top:1390px"></div>
<div class="hl" style="top:1448px"></div>
<div class="hl" style="top:1506px"></div>
<div class="hl" style="top:1564px"></div>
<div class="hl" style="top:1622px"></div>
<div class="hl" style="top:1680px"></div>
<div class="hl" style="top:1738px"></div>
<div class="hl" style="top:1796px"></div>
<div class="hl" style="top:1854px"></div>
<div class="hl" style="top:1912px"></div>
<div class="hl" style="top:1970px"></div>
<div class="hl" style="top:2028px"></div>
<div class="hl" style="top:2086px"></div>
<div class="hl" style="top:2144px"></div>
<div class="hl" style="top:2202px"></div>
<div class="hl" style="top:2260px"></div>
<div class="hl" style="top:2318px"></div>
<div class="hl" style="top:2376px"></div>
<div class="hl" style="top:2434px"></div>
<div class="hl" style="top:2492px"></div>
<div class="vl" style="left:138px"></div>
<div class="vl" style="left:672px"></div>
<div class="vl" style="left:964px"></div>
<div class="vl" style="left:1169px"></div>
<div class="vl" style="left:1394px"></div>
<div class="vl" style="left:1628px"></div>
<div class="vl" style="left:1862px"></div>
<div class="vl" style="left:2070px"></div>
<div class="t n" style="left:677.5px;top:-1px;letter-spacing:.25px"><span class="l">*.*.cc-2378 - MiaoKo </span></div>
<div class="t n" style="left:1032.5px;top:-1px">自定义测试<span class="l"> </span></div>
<div class="t n" style="left:1212.5px;top:-1px;letter-spacing:.4px"><span class="l">| speed - A1-</span></div>
<div class="t n" style="left:1428.0px;top:-1px">订阅速度检测</div>
<div class="t" style="left:-1px;top:57px;width:140px">序号</div>
<div class="t" style="left:139px;top:57px;width:534px;margin-left:1px">节点名称</div>
<div class="t" style="left:673px;top:57px;width:292px">类型</div>
<div class="t" style="left:965px;top:57px;width:205px;letter-spacing:-2px"><span class="lh">TCP RTT</span></div>
<div class="t" style="left:1170px;top:57px;width:225px;margin-left:2.5px"><span class="lh">HTTP</span>延迟</div>
<div class="t" style="left:1395px;top:57px;width:234px;margin-left:1.5px">平均速度</div>
<div class="t" style="left:1629px;top:57px;width:234px;margin-left:1.5px">最高速度</div>
<div class="t" style="left:1863px;top:57px;width:208px;margin-left:1.5px">每秒速度</div>
<div class="t" style="left:2071px;top:57px;width:227px"><span class="lh">UDP</span>类型</div>
<div class="t" style="left:-1px;top:115px;width:140px"><span class="l">1</span></div>
<div class="t n" style="left:155.6px;top:115px;width:520px">【<span class="l f">1x</span>】隧道丨香港<span class="l"> 06</span></div>
<div class="t" style="left:673px;top:115px;width:292px;letter-spacing:-.3px"><span class="l">Shadowsocks</span></div>
<div class="t" style="left:965px;top:115px;width:205px"><span class="l">24ms</span></div>
<div class="t" style="left:1170px;top:115px;width:225px"><span class="l">43ms</span></div>
<div class="t" style="left:1395px;top:115px;width:234px;margin-left:2px"><span class="l">502.08MB</span></div>
<div class="t" style="left:1629px;top:115px;width:234px;margin-left:2px"><span class="l">530.29MB</span></div>
<div class="t" style="left:2071px;top:115px;width:227px;margin-left:1px"><span class="l">FullCone</span></div>
<div class="t" style="left:-1px;top:173px;width:140px"><span class="l">2</span></div>
<div class="t n" style="left:157.0px;top:173px;width:520px">套餐到期<span class="cn">：</span><span class="l">2025-10-13</span></div>
<div class="t" style="left:673px;top:173px;width:292px;letter-spacing:-.3px"><span class="l">Shadowsocks</span></div>
<div class="t" style="left:965px;top:173px;width:205px"><span class="l">26ms</span></div>
<div class="t" style="left:1170px;top:173px;width:225px"><span class="l">40ms</span></div>
<div class="t" style="left:1395px;top:173px;width:234px;margin-left:2px"><span class="l">489.20MB</span></div>
<div class="t" style="left:1629px;top:173px;width:234px;margin-left:2px"><span class="l">516.26MB</span></div>
<div class="t" style="left:2071px;top:173px;width:227px;margin-left:1px"><span class="l">FullCone</span></div>
<div class="t" style="left:-1px;top:231px;width:140px"><span class="l">3</span></div>
<div class="t n" style="left:155.6px;top:231px;width:520px">【<span class="l f">1x</span>】隧道丨香港<span class="l"> 03</span></div>
<div class="t" style="left:673px;top:231px;width:292px;letter-spacing:-.3px"><span class="l">Shadowsocks</span></div>
<div class="t" style="left:965px;top:231px;width:205px"><span class="l">25ms</span></div>
<div class="t" style="left:1170px;top:231px;width:225px"><span class="l">44ms</span></div>
<div class="t" style="left:1395px;top:231px;width:234px;margin-left:2px"><span class="l">482.18MB</span></div>
<div class="t" style="left:1629px;top:231px;width:234px;margin-left:2px"><span class="l">516.88MB</span></div>
<div class="t" style="left:2071px;top:231px;width:227px;margin-left:1px"><span class="l">FullCone</span></div>
<div class="t" style="left:-1px;top:289px;width:140px"><span class="l">4</span></div>
<div class="t n" style="left:155.6px;top:289px;width:520px">【<span class="l f">1x</span>】隧道丨香港<span class="l"> 01</span></div>
<div class="t" style="left:673px;top:289px;width:292px;letter-spacing:-.3px"><span class="l">Shadowsocks</span></div>
<div class="t" style="left:965px;top:289px;width:205px"><span class="l">23ms</span></div>
<div class="t" style="left:1170px;top:289px;width:225px"><span class="l">46ms</span></div>
<div class="t" style="left:1395px;top:289px;width:234px;margin-left:2px"><span class="l">478.26MB</span></div>
<div class="t" style="left:1629px;top:289px;width:234px;margin-left:2px"><span class="l">520.70MB</span></div>
<div class="t" style="left:2071px;top:289px;width:227px;margin-left:1px"><span class="l">FullCone</span></div>
<div class="t" style="left:-1px;top:347px;width:140px"><span class="l">5</span></div>
<div class="t n" style="left:155.6px;top:347px;width:520px">【<span class="l f">1x</span>】隧道丨香港<span class="l"> 04</span></div>
<div class="t" style="left:673px;top:347px;width:292px;letter-spacing:-.3px"><span class="l">Shadowsocks</span></div>
<div class="t" style="left:965px;top:347px;width:205px"><span class="l">22ms</span></div>
<div class="t" style="left:1170px;top:347px;width:225px"><span class="l">37ms</span></div>
<div class="t" style="left:1395px;top:347px;width:234px;margin-left:2px"><span class="l">462.24MB</span></div>
<div class="t" style="left:1629px;top:347px;width:234px;margin-left:2px"><span class="l">498.50MB</span></div>
<div class="t" style="left:2071px;top:347px;width:227px;margin-left:1px"><span class="l">FullCone</span></div>
<div class="t" style="left:-1px;top:405px;width:140px"><span class="l">6</span></div>
<div class="t n" style="left:157.0px;top:405px;width:520px">距离下次重置剩余<span class="cn">：</span><span class="l">6 </span>天</div>
<div class="t" style="left:673px;top:405px;width:292px;letter-spacing:-.3px"><span class="l">Shadowsocks</span></div>
<div class="t" style="left:965px;top:405px;width:205px"><span class="l">23ms</span></div>
<div class="t" style="left:1170px;top:405px;width:225px"><span class="l">42ms</span></div>
<div class="t" style="left:1395px;top:405px;width:234px;margin-left:2px"><span class="l">450.21MB</span></div>
<div class="t" style="left:1629px;top:405px;width:234px;margin-left:2px"><span class="l">537.09MB</span></div>
<div class="t" style="left:2071px;top:405px;width:227px;margin-left:1px"><span class="l">FullCone</span></div>
<div class="t" style="left:-1px;top:463px;width:140px"><span class="l">7</span></div>
<div class="t n" style="left:155.6px;top:463px;width:520px">【<span class="l f">1x</span>】隧道丨新加坡<span class="l"> 06</span></div>
<div class="t" style="left:673px;top:463px;width:292px;letter-spacing:-.3px"><span class="l">Shadowsocks</span></div>
<div class="t" style="left:965px;top:463px;width:205px"><span class="l">57ms</span></div>
<div class="t" style="left:1170px;top:463px;width:225px"><span class="l">107ms</span></div>
<div class="t" style="left:1395px;top:463px;width:234px;margin-left:2px"><span class="l">437.12MB</span></div>
<div class="t" style="left:1629px;top:463px;width:234px;margin-left:2px"><span class="l">512.00MB</span></div>
<div class="t" style="left:2071px;top:463px;width:227px;margin-left:1px"><span class="l">FullCone</span></div>
<div class="t" style="left:-1px;top:521px;width:140px"><span class="l">8</span></div>
<div class="t n" style="left:155.6px;top:521px;width:520px">【<span class="l f">1x</span>】隧道丨新加坡<span class="l"> 04</span></div>
<div class="t" style="left:673px;top:521px;width:292px;letter-spacing:-.3px"><span class="l">Shadowsocks</span></div>
<div class="t" style="left:965px;top:521px;width:205px"><span class="l">57ms</span></div>
<div class="t" style="left:1170px;top:521px;width:225px"><span class="l">106ms</span></div>
<div class="t" style="left:1395px;top:521px;width:234px;margin-left:2px"><span class="l">434.39MB</span></div>
<div class="t" style="left:1629px;top:521px;width:234px;margin-left:2px"><span class="l">534.40MB</span></div>
<div class="t" style="left:2071px;top:521px;width:227px;margin-left:1px"><span class="l">FullCone</span></div>
<div class="t" style="left:-1px;top:579px;width:140px"><span class="l">9</span></div>
<div class="t n" style="left:157.0px;top:579px;width:520px">剩余流量<span class="cn">：</span><span class="l">731.13 GB</span></div>
<div class="t" style="left:673px;top:579px;width:292px;letter-spacing:-.3px"><span class="l">Shadowsocks</span></div>
<div class="t" style="left:965px;top:579px;width:205px"><span class="l">30ms</span></div>
<div class="t" style="left:1170px;top:579px;width:225px"><span class="l">52ms</span></div>
<div class="t" style="left:1395px;top:579px;width:234px;margin-left:2px"><span class="l">393.07MB</span></div>
<div class="t" style="left:1629px;top:579px;width:234px;margin-left:2px"><span class="l">598.93MB</span></div>
<div class="t" style="left:2071px;top:579px;width:227px;margin-left:1px"><span class="l">FullCone</span></div>
<div class="t" style="left:-1px;top:637px;width:140px"><span class="l">10</span></div>
<div class="t n" style="left:155.6px;top:637px;width:520px">【<span class="l f">1x</span>】隧道丨台湾<span class="l"> 03</span></div>
<div class="t" style="left:673px;top:637px;width:292px;letter-spacing:-.3px"><span class="l">Shadowsocks</span></div>
<div class="t" style="left:965px;top:637px;width:205px"><span class="l">27ms</span></div>
<div class="t" style="left:1170px;top:637px;width:225px"><span class="l">51ms</span></div>
<div class="t" style="left:1395px;top:637px;width:234px;margin-left:2px"><span class="l">366.78MB</span></div>
<div class="t" style="left:1629px;top:637px;width:234px;margin-left:2px"><span class="l">409.37MB</span></div>
<div class="t" style="left:2071px;top:637px;width:227px;margin-left:1px"><span class="l">FullCone</span></div>
<div class="t" style="left:-1px;top:695px;width:140px"><span class="l">11</span></div>
<div class="t n" style="left:155.6px;top:695px;width:520px">【<span class="l f">1x</span>】隧道丨新加坡<span class="l"> 01</span></div>
<div class="t" style="left:673px;top:695px;width:292px;letter-spacing:-.3px"><span class="l">Shadowsocks</span></div>
<div class="t" style="left:965px;top:695px;width:205px"><span class="l">29ms</span></div>
<div class="t" style="left:1170px;top:695px;width:225px"><span class="l">46ms</span></div>
<div class="t" style="left:1395px;top:695px;width:234px;margin-left:2px"><span class="l">360.59MB</span></div>
<div class="t" style="left:1629px;top:695px;width:234px;margin-left:2px"><span class="l">403.64MB</span></div>
<div class="t" style="left:2071px;top:695px;width:227px;margin-left:1px"><span class="l">FullCone</span></div>
<div class="t" style="left:-1px;top:753px;width:140px"><span class="l">12</span></div>
<div class="t n" style="left:155.6px;top:753px;width:520px">【<span class="l f">1x</span>】隧道丨台湾<span class="l"> 01</span></div>
<div class="t" style="left:673px;top:753px;width:292px;letter-spacing:-.3px"><span class="l">Shadowsocks</span></div>
<div class="t" style="left:965px;top:753px;width:205px"><span class="l">27ms</span></div>
<div class="t" style="left:1170px;top:753px;width:225px"><span class="l">46ms</span></div>
<div class="t" style="left:1395px;top:753px;width:234px;margin-left:2px"><span class="l">354.74MB</span></div>
<div class="t" style="left:1629px;top:753px;width:234px;margin-left:2px"><span class="l">423.70MB</span></div>
<div class="t" style="left:2071px;top:753px;width:227px;margin-left:1px"><span class="l">FullCone</span></div>
<div class="t" style="left:-1px;top:811px;width:140px"><span class="l">13</span></div>
<div class="t n" style="left:155.6px;top:811px;width:520px">【<span class="l f">1x</span>】隧道丨新加坡<span class="l"> 03</span></div>
<div class="t" style="left:673px;top:811px;width:292px;letter-spacing:-.3px"><span class="l">Shadowsocks</span></div>
<div class="t" style="left:965px;top:811px;width:205px"><span class="l">27ms</span></div>
<div class="t" style="left:1170px;top:811px;width:225px"><span class="l">54ms</span></div>
<div class="t" style="left:1395px;top:811px;width:234px;margin-left:2px"><span class="l">330.74MB</span></div>
<div class="t" style="left:1629px;top:811px;width:234px;margin-left:2px"><span class="l">365.47MB</span></div>
<div class="t" style="left:2071px;top:811px;width:227px;margin-left:1px"><span class="l">FullCone</span></div>
<div class="t" style="left:-1px;top:869px;width:140px"><span class="l">14</span></div>
<div class="t n" style="left:155.6px;top:869px;width:520px">【<span class="l f">1x</span>】隧道丨日本<span class="l"> 04</span></div>
<div class="t" style="left:673px;top:869px;width:292px;letter-spacing:-.3px"><span class="l">Shadowsocks</span></div>
<div class="t" style="left:965px;top:869px;width:205px"><span class="l">64ms</span></div>
<div class="t" style="left:1170px;top:869px;width:225px"><span class="l">77ms</span></div>
<div class="t" style="left:1395px;top:869px;width:234px;margin-left:2px"><span class="l">316.98MB</span></div>
<div class="t" style="left:1629px;top:869px;width:234px;margin-left:2px"><span class="l">330.22MB</span></div>
<div class="t" style="left:2071px;top:869px;width:227px;margin-left:1px"><span class="l">FullCone</span></div>
<div class="t" style="left:-1px;top:927px;width:140px"><span class="l">15</span></div>
<div class="t n" style="left:155.6px;top:927px;width:520px">【<span class="l f">1x</span>】隧道丨日本<span class="l"> 06</span></div>
<div class="t" style="left:673px;top:927px;width:292px;letter-spacing:-.3px"><span class="l">Shadowsocks</span></div>
<div class="t" style="left:965px;top:927px;width:205px"><span class="l">75ms</span></div>
<div class="t" style="left:1170px;top:927px;width:225px"><span class="l">137ms</span></div>
<div class="t" style="left:1395px;top:927px;width:234px;margin-left:2px"><span class="l">312.57MB</span></div>
<div class="t" style="left:1629px;top:927px;width:234px;margin-left:2px"><span class="l">337.97MB</span></div>
<div class="t" style="left:2071px;top:927px;width:227px;margin-left:1px"><span class="l">FullCone</span></div>
<div class="t" style="left:-1px;top:985px;width:140px"><span class="l">16</span></div>
<div class="t n" style="left:155.6px;top:985px;width:520px">【<span class="l f">1x</span>】隧道丨新加坡<span class="l"> 05</span></div>
<div class="t" style="left:673px;top:985px;width:292px;letter-spacing:-.3px"><span class="l">Shadowsocks</span></div>
<div class="t" style="left:965px;top:985px;width:205px"><span class="l">108ms</span></div>
<div class="t" style="left:1170px;top:985px;width:225px"><span class="l">191ms</span></div>
<div class="t" style="left:1395px;top:985px;width:234px;margin-left:2px"><span class="l">304.06MB</span></div>
<div class="t" style="left:1629px;top:985px;width:234px;margin-left:2px"><span class="l">394.20MB</span></div>
<div class="t" style="left:2071px;top:985px;width:227px;margin-left:1px"><span class="l">FullCone</span></div>
<div class="t" style="left:-1px;top:1043px;width:140px"><span class="l">17</span></div>
<div class="t n" style="left:155.6px;top:1043px;width:520px">【<span class="l f">1x</span>】隧道丨台湾<span class="l"> 02</span></div>
<div class="t" style="left:673px;top:1043px;width:292px;letter-spacing:-.3px"><span class="l">Shadowsocks</span></div>
<div class="t" style="left:965px;top:1043px;width:205px"><span class="l">76ms</span></div>
<div class="t" style="left:1170px;top:1043px;width:225px"><span class="l">120ms</span></div>
<div class="t" style="left:1395px;top:1043px;width:234px;margin-left:2px"><span class="l">300.04MB</span></div>
<div class="t" style="left:1629px;top:1043px;width:234px;margin-left:2px"><span class="l">377.50MB</span></div>
<div class="t" style="left:2071px;top:1043px;width:227px;margin-left:1px"><span class="l">FullCone</span></div>
<div class="t" style="left:-1px;top:1101px;width:140px"><span class="l">18</span></div>
<div class="t n" style="left:155.6px;top:1101px;width:520px">【<span class="l f">1x</span>】隧道丨日本<span class="l"> 05</span></div>
<div class="t" style="left:673px;top:1101px;width:292px;letter-spacing:-.3px"><span class="l">Shadowsocks</span></div>
<div class="t" style="left:965px;top:1101px;width:205px"><span class="l">124ms</span></div>
<div class="t" style="left:1170px;top:1101px;width:225px"><span class="l">278ms</span></div>
<div class="t" style="left:1395px;top:1101px;width:234px;margin-left:2px"><span class="l">298.29MB</span></div>
<div class="t" style="left:1629px;top:1101px;width:234px;margin-left:2px"><span class="l">385.67MB</span></div>
<div class="t" style="left:2071px;top:1101px;width:227px;margin-left:1px"><span class="l">FullCone</span></div>
<div class="t" style="left:-1px;top:1159px;width:140px"><span class="l">19</span></div>
<div class="t n" style="left:155.6px;top:1159px;width:520px">【<span class="l f">1x</span>】隧道丨新加坡<span class="l"> 02</span></div>
<div class="t" style="left:673px;top:1159px;width:292px;letter-spacing:-.3px"><span class="l">Shadowsocks</span></div>
<div class="t" style="left:965px;top:1159px;width:205px"><span class="l">77ms</span></div>
<div class="t" style="left:1170px;top:1159px;width:225px"><span class="l">125ms</span></div>
<div class="t" style="left:1395px;top:1159px;width:234px;margin-left:2px"><span class="l">290.95MB</span></div>
<div class="t" style="left:1629px;top:1159px;width:234px;margin-left:2px"><span class="l">381.61MB</span></div>
<div class="t" style="left:2071px;top:1159px;width:227px;margin-left:1px"><span class="l">FullCone</span></div>
<div class="t" style="left:-1px;top:1217px;width:140px"><span class="l">20</span></div>
<div class="t n" style="left:155.6px;top:1217px;width:520px">【<span class="l f">1x</span>】隧道丨美国<span class="l"> 01</span></div>
<div class="t" style="left:673px;top:1217px;width:292px;letter-spacing:-.3px"><span class="l">Shadowsocks</span></div>
<div class="t" style="left:965px;top:1217px;width:205px"><span class="l">174ms</span></div>
<div class="t" style="left:1170px;top:1217px;width:225px"><span class="l">381ms</span></div>
<div class="t" style="left:1395px;top:1217px;width:234px;margin-left:2px"><span class="l">288.70MB</span></div>
<div class="t" style="left:1629px;top:1217px;width:234px;margin-left:2px"><span class="l">395.76MB</span></div>
<div class="t" style="left:2071px;top:1217px;width:227px;margin-left:1px"><span class="l">FullCone</span></div>
<div class="t" style="left:-1px;top:1275px;width:140px"><span class="l">21</span></div>
<div class="t n" style="left:155.6px;top:1275px;width:520px">【<span class="l f">1x</span>】隧道丨香港<span class="l"> 02</span></div>
<div class="t" style="left:673px;top:1275px;width:292px;letter-spacing:-.3px"><span class="l">Shadowsocks</span></div>
<div class="t" style="left:965px;top:1275px;width:205px"><span class="l">71ms</span></div>
<div class="t" style="left:1170px;top:1275px;width:225px"><span class="l">117ms</span></div>
<div class="t" style="left:1395px;top:1275px;width:234px;margin-left:2px"><span class="l">278.22MB</span></div>
<div class="t" style="left:1629px;top:1275px;width:234px;margin-left:2px"><span class="l">395.70MB</span></div>
<div class="t" style="left:2071px;top:1275px;width:227px;margin-left:1px"><span class="l">FullCone</span></div>
<div class="t" style="left:-1px;top:1333px;width:140px"><span class="l">22</span></div>
<div class="t n" style="left:155.6px;top:1333px;width:520px">【<span class="l f">1x</span>】隧道丨日本<span class="l"> 03</span></div>
<div class="t" style="left:673px;top:1333px;width:292px;letter-spacing:-.3px"><span class="l">Shadowsocks</span></div>
<div class="t" style="left:965px;top:1333px;width:205px"><span class="l">72ms</span></div>
<div class="t" style="left:1170px;top:1333px;width:225px"><span class="l">117ms</span></div>
<div class="t" style="left:1395px;top:1333px;width:234px;margin-left:2px"><span class="l">256.80MB</span></div>
<div class="t" style="left:1629px;top:1333px;width:234px;margin-left:2px"><span class="l">296.72MB</span></div>
<div class="t" style="left:2071px;top:1333px;width:227px;margin-left:1px"><span class="l">FullCone</span></div>
<div class="t" style="left:-1px;top:1391px;width:140px"><span class="l">23</span></div>
<div class="t n" style="left:155.6px;top:1391px;width:520px">【<span class="l f">1x</span>】隧道丨香港<span class="l"> 05</span></div>
<div class="t" style="left:673px;top:1391px;width:292px;letter-spacing:-.3px"><span class="l">Shadowsocks</span></div>
<div class="t" style="left:965px;top:1391px;width:205px"><span class="l">71ms</span></div>
<div class="t" style="left:1170px;top:1391px;width:225px"><span class="l">113ms</span></div>
<div class="t" style="left:1395px;top:1391px;width:234px;margin-left:2px"><span class="l">254.82MB</span></div>
<div class="t" style="left:1629px;top:1391px;width:234px;margin-left:2px"><span class="l">381.62MB</span></div>
<div class="t" style="left:2071px;top:1391px;width:227px;margin-left:1px"><span class="l">FullCone</span></div>
<div class="t" style="left:-1px;top:1449px;width:140px"><span class="l">24</span></div>
<div class="t n" style="left:155.6px;top:1449px;width:520px">【<span class="l f">1x</span>】隧道丨日本<span class="l"> 01</span></div>
<div class="t" style="left:673px;top:1449px;width:292px;letter-spacing:-.3px"><span class="l">Shadowsocks</span></div>
<div class="t" style="left:965px;top:1449px;width:205px"><span class="l">67ms</span></div>
<div class="t" style="left:1170px;top:1449px;width:225px"><span class="l">100ms</span></div>
<div class="t" style="left:1395px;top:1449px;width:234px;margin-left:2px"><span class="l">251.01MB</span></div>
<div class="t" style="left:1629px;top:1449px;width:234px;margin-left:2px"><span class="l">325.49MB</span></div>
<div class="t" style="left:2071px;top:1449px;width:227px;margin-left:1px"><span class="l">FullCone</span></div>
<div class="t" style="left:-1px;top:1507px;width:140px"><span class="l">25</span></div>
<div class="t n" style="left:155.6px;top:1507px;width:520px">【<span class="l f">1x</span>】隧道丨日本<span class="l"> 02</span></div>
<div class="t" style="left:673px;top:1507px;width:292px;letter-spacing:-.3px"><span class="l">Shadowsocks</span></div>
<div class="t" style="left:965px;top:1507px;width:205px"><span class="l">118ms</span></div>
<div class="t" style="left:1170px;top:1507px;width:225px"><span class="l">288ms</span></div>
<div class="t" style="left:1395px;top:1507px;width:234px;margin-left:2px"><span class="l">243.91MB</span></div>
<div class="t" style="left:1629px;top:1507px;width:234px;margin-left:2px"><span class="l">353.01MB</span></div>
<div class="t" style="left:2071px;top:1507px;width:227px;margin-left:1px"><span class="l">FullCone</span></div>
<div class="t" style="left:-1px;top:1565px;width:140px"><span class="l">26</span></div>
<div class="t n" style="left:155.6px;top:1565px;width:520px">【<span class="l f">1x</span>】隧道丨美国<span class="l"> 04</span></div>
<div class="t" style="left:673px;top:1565px;width:292px;letter-spacing:-.3px"><span class="l">Shadowsocks</span></div>
<div class="t" style="left:965px;top:1565px;width:205px"><span class="l">193ms</span></div>
<div class="t" style="left:1170px;top:1565px;width:225px"><span class="l">306ms</span></div>
<div class="t" style="left:1395px;top:1565px;width:234px;margin-left:2px"><span class="l">243.21MB</span></div>
<div class="t" style="left:1629px;top:1565px;width:234px;margin-left:2px"><span class="l">336.72MB</span></div>
<div class="t" style="left:2071px;top:1565px;width:227px;margin-left:1px"><span class="l">FullCone</span></div>
<div class="t" style="left:-1px;top:1623px;width:140px"><span class="l">27</span></div>
<div class="t n" style="left:155.6px;top:1623px;width:520px">【<span class="l f">1x</span>】隧道丨美国<span class="l"> 06</span></div>
<div class="t" style="left:673px;top:1623px;width:292px;letter-spacing:-.3px"><span class="l">Shadowsocks</span></div>
<div class="t" style="left:965px;top:1623px;width:205px"><span class="l">181ms</span></div>
<div class="t" style="left:1170px;top:1623px;width:225px"><span class="l">314ms</span></div>
<div class="t" style="left:1395px;top:1623px;width:234px;margin-left:2px"><span class="l">240.29MB</span></div>
<div class="t" style="left:1629px;top:1623px;width:234px;margin-left:2px"><span class="l">303.50MB</span></div>
<div class="t" style="left:2071px;top:1623px;width:227px;margin-left:1px"><span class="l">FullCone</span></div>
<div class="t" style="left:-1px;top:1681px;width:140px"><span class="l">28</span></div>
<div class="t n" style="left:155.6px;top:1681px;width:520px">【<span class="l f">1x</span>】隧道丨美国<span class="l"> 03</span></div>
<div class="t" style="left:673px;top:1681px;width:292px;letter-spacing:-.3px"><span class="l">Shadowsocks</span></div>
<div class="t" style="left:965px;top:1681px;width:205px"><span class="l">206ms</span></div>
<div class="t" style="left:1170px;top:1681px;width:225px"><span class="l">320ms</span></div>
<div class="t" style="left:1395px;top:1681px;width:234px;margin-left:2px"><span class="l">222.21MB</span></div>
<div class="t" style="left:1629px;top:1681px;width:234px;margin-left:2px"><span class="l">314.65MB</span></div>
<div class="t" style="left:2071px;top:1681px;width:227px;margin-left:1px"><span class="l">FullCone</span></div>
<div class="t" style="left:-1px;top:1739px;width:140px"><span class="l">29</span></div>
<div class="t n" style="left:155.6px;top:1739px;width:520px">【<span class="l f">1x</span>】隧道丨美国<span class="l"> 02</span></div>
<div class="t" style="left:673px;top:1739px;width:292px;letter-spacing:-.3px"><span class="l">Shadowsocks</span></div>
<div class="t" style="left:965px;top:1739px;width:205px"><span class="l">217ms</span></div>
<div class="t" style="left:1170px;top:1739px;width:225px"><span class="l">711ms</span></div>
<div class="t" style="left:1395px;top:1739px;width:234px;margin-left:2px"><span class="l">196.30MB</span></div>
<div class="t" style="left:1629px;top:1739px;width:234px;margin-left:2px"><span class="l">256.50MB</span></div>
<div class="t" style="left:2071px;top:1739px;width:227px;margin-left:1px"><span class="l">FullCone</span></div>
<div class="t" style="left:-1px;top:1797px;width:140px"><span class="l">30</span></div>
<div class="t n" style="left:155.6px;top:1797px;width:520px">【<span class="l f">1x</span>】隧道丨美国<span class="l"> 05</span></div>
<div class="t" style="left:673px;top:1797px;width:292px;letter-spacing:-.3px"><span class="l">Shadowsocks</span></div>
<div class="t" style="left:965px;top:1797px;width:205px"><span class="l">254ms</span></div>
<div class="t" style="left:1170px;top:1797px;width:225px"><span class="l">578ms</span></div>
<div class="t" style="left:1395px;top:1797px;width:234px;margin-left:2px"><span class="l">173.53MB</span></div>
<div class="t" style="left:1629px;top:1797px;width:234px;margin-left:2px"><span class="l">268.99MB</span></div>
<div class="t" style="left:2071px;top:1797px;width:227px;margin-left:1px"><span class="l">FullCone</span></div>
<div class="t" style="left:-1px;top:1855px;width:140px"><span class="l">31</span></div>
<div class="t n" style="left:155.6px;top:1855px;width:520px">【<span class="l f">1x</span>】隧道丨澳门<span class="l"> 03</span></div>
<div class="t" style="left:673px;top:1855px;width:292px;letter-spacing:-.3px"><span class="l">Shadowsocks</span></div>
<div class="t" style="left:965px;top:1855px;width:205px"><span class="l">26ms</span></div>
<div class="t" style="left:1170px;top:1855px;width:225px"><span class="l">47ms</span></div>
<div class="t" style="left:1395px;top:1855px;width:234px;margin-left:2px"><span class="l">106.19MB</span></div>
<div class="t" style="left:1629px;top:1855px;width:234px;margin-left:2px"><span class="l">113.09MB</span></div>
<div class="t" style="left:2071px;top:1855px;width:227px;margin-left:1px"><span class="l">FullCone</span></div>
<div class="t" style="left:-1px;top:1913px;width:140px"><span class="l">32</span></div>
<div class="t n" style="left:155.6px;top:1913px;width:520px">【<span class="l f">1x</span>】隧道丨澳门<span class="l"> 01</span></div>
<div class="t" style="left:673px;top:1913px;width:292px;letter-spacing:-.3px"><span class="l">Shadowsocks</span></div>
<div class="t" style="left:965px;top:1913px;width:205px"><span class="l">64ms</span></div>
<div class="t" style="left:1170px;top:1913px;width:225px"><span class="l">75ms</span></div>
<div class="t" style="left:1395px;top:1913px;width:234px;margin-left:2px"><span class="l">95.26MB</span></div>
<div class="t" style="left:1629px;top:1913px;width:234px;margin-left:2px"><span class="l">113.25MB</span></div>
<div class="t" style="left:2071px;top:1913px;width:227px;margin-left:1px"><span class="l">FullCone</span></div>
<div class="t" style="left:-1px;top:1971px;width:140px"><span class="l">33</span></div>
<div class="t n" style="left:155.6px;top:1971px;width:520px">【<span class="l f">1x</span>】隧道丨澳门<span class="l"> 02</span></div>
<div class="t" style="left:673px;top:1971px;width:292px;letter-spacing:-.3px"><span class="l">Shadowsocks</span></div>
<div class="t" style="left:965px;top:1971px;width:205px"><span class="l">74ms</span></div>
<div class="t" style="left:1170px;top:1971px;width:225px"><span class="l">122ms</span></div>
<div class="t" style="left:1395px;top:1971px;width:234px;margin-left:2px"><span class="l">92.16MB</span></div>
<div class="t" style="left:1629px;top:1971px;width:234px;margin-left:2px"><span class="l">111.64MB</span></div>
<div class="t" style="left:2071px;top:1971px;width:227px;margin-left:1px"><span class="l">FullCone</span></div>
<div class="t" style="left:-1px;top:2029px;width:140px"><span class="l">34</span></div>
<div class="t n" style="left:155.6px;top:2029px;width:520px">【<span class="l f">1x</span>】隧道丨韩国<span class="l"> 01</span></div>
<div class="t" style="left:673px;top:2029px;width:292px;letter-spacing:-.3px"><span class="l">Shadowsocks</span></div>
<div class="t" style="left:965px;top:2029px;width:205px"><span class="l">105ms</span></div>
<div class="t" style="left:1170px;top:2029px;width:225px"><span class="l">181ms</span></div>
<div class="t" style="left:1395px;top:2029px;width:234px;margin-left:2px"><span class="l">26.10MB</span></div>
<div class="t" style="left:1629px;top:2029px;width:234px;margin-left:2px"><span class="l">31.91MB</span></div>
<div class="t" style="left:2071px;top:2029px;width:227px;margin-left:1px"><span class="l">FullCone</span></div>
<div class="t" style="left:-1px;top:2087px;width:140px"><span class="l">35</span></div>
<div class="t n" style="left:155.6px;top:2087px;width:520px">【<span class="l f">1x</span>】隧道丨韩国<span class="l"> 02</span></div>
<div class="t" style="left:673px;top:2087px;width:292px;letter-spacing:-.3px"><span class="l">Shadowsocks</span></div>
<div class="t" style="left:965px;top:2087px;width:205px"><span class="l">128ms</span></div>
<div class="t" style="left:1170px;top:2087px;width:225px"><span class="l">524ms</span></div>
<div class="t" style="left:1395px;top:2087px;width:234px;margin-left:2px"><span class="l">25.24MB</span></div>
<div class="t" style="left:1629px;top:2087px;width:234px;margin-left:2px"><span class="l">32.55MB</span></div>
<div class="t" style="left:2071px;top:2087px;width:227px;margin-left:1px"><span class="l">FullCone</span></div>
<div class="t" style="left:-1px;top:2145px;width:140px"><span class="l">36</span></div>
<div class="t n" style="left:155.6px;top:2145px;width:520px">【<span class="l f">1x</span>】隧道丨韩国<span class="l"> 03</span></div>
<div class="t" style="left:673px;top:2145px;width:292px;letter-spacing:-.3px"><span class="l">Shadowsocks</span></div>
<div class="t" style="left:965px;top:2145px;width:205px"><span class="l">129ms</span></div>
<div class="t" style="left:1170px;top:2145px;width:225px"><span class="l">247ms</span></div>
<div class="t" style="left:1395px;top:2145px;width:234px;margin-left:2px"><span class="l">20.20MB</span></div>
<div class="t" style="left:1629px;top:2145px;width:234px;margin-left:2px"><span class="l">28.66MB</span></div>
<div class="t" style="left:2071px;top:2145px;width:227px;margin-left:1px"><span class="l">FullCone</span></div>
<div class="t" style="left:-1px;top:2203px;width:140px"><span class="l">37</span></div>
<div class="t n" style="left:156.5px;top:2203px;width:520px">【<span class="l g">0.5x</span>】直连丨台湾家宽</div>
<div class="t" style="left:673px;top:2203px;width:292px;letter-spacing:-.3px"><span class="l">Trojan</span></div>
<div class="t" style="left:965px;top:2203px;width:205px"><span class="l">-</span></div>
<div class="t" style="left:1170px;top:2203px;width:225px"><span class="l">-</span></div>
<div class="t" style="left:1395px;top:2203px;width:234px;margin-left:2px"><span class="l">0.00B</span></div>
<div class="t" style="left:1629px;top:2203px;width:234px;margin-left:2px"><span class="l">0.00B</span></div>
<div class="t" style="left:2071px;top:2203px;width:227px;letter-spacing:1px;margin-left:.5px"><span class="l">Unknown</span></div>
<div class="t" style="left:-1px;top:2261px;width:140px"><span class="l">38</span></div>
<div class="t n" style="left:156.5px;top:2261px;width:520px">【<span class="l g">0.1x</span>】直连丨新加坡<span class="l">0.1</span></div>
<div class="t" style="left:673px;top:2261px;width:292px;letter-spacing:-.3px"><span class="l">Trojan</span></div>
<div class="t" style="left:965px;top:2261px;width:205px"><span class="l">-</span></div>
<div class="t" style="left:1170px;top:2261px;width:225px"><span class="l">-</span></div>
<div class="t" style="left:1395px;top:2261px;width:234px;margin-left:2px"><span class="l">0.00B</span></div>
<div class="t" style="left:1629px;top:2261px;width:234px;margin-left:2px"><span class="l">0.00B</span></div>
<div class="t" style="left:2071px;top:2261px;width:227px;letter-spacing:1px;margin-left:.5px"><span class="l">Unknown</span></div>
<div class="t" style="left:-1px;top:2319px;width:140px"><span class="l">39</span></div>
<div class="t n" style="left:156.5px;top:2319px;width:520px">【<span class="l g">0.1x</span>】隧道丨<span class="l">Emby</span>专用节点</div>
<div class="t" style="left:673px;top:2319px;width:292px;letter-spacing:-.3px"><span class="l">Shadowsocks</span></div>
<div class="t" style="left:965px;top:2319px;width:205px"><span class="l">-</span></div>
<div class="t" style="left:1170px;top:2319px;width:225px"><span class="l">-</span></div>
<div class="t" style="left:1395px;top:2319px;width:234px;margin-left:2px"><span class="l">0.00B</span></div>
<div class="t" style="left:1629px;top:2319px;width:234px;margin-left:2px"><span class="l">0.00B</span></div>
<div class="t" style="left:2071px;top:2319px;width:227px;letter-spacing:1px;margin-left:.5px"><span class="l">Unknown</span></div>
<div style="left:36px;top:2394px;width:4px;height:17px;background:#d0dee6;border-radius:1px"></div>
<div style="left:36px;top:2415px;width:4px;height:4px;background:#d0dee6;border-radius:1px"></div>
<div class="t n" style="left:69.0px;top:2377px">本次测试未完全核实<span class="lh"> TLS </span>证书，有测试结果被劫持的可能性存在。</div>
<div class="t n" style="left:18.0px;top:2435px">主端<span class="l">=4.3.3 (696) </span></div>
<div class="t n" style="left:296.5px;top:2435px;letter-spacing:.4px">喵速<span class="l">=5.0.0-beta4 (</span></div>
<div class="t n" style="left:639.5px;top:2435px">华南<span class="l">-</span>广东深圳移动<span class="l">[1Gbps][16TC]), </span></div>
<div class="t n" style="left:1197.0px;top:2435px;letter-spacing:.5px">线程<span class="l">=16 </span></div>
<div class="t n" style="left:1342.5px;top:2435px;letter-spacing:1.2px">概要<span class="l">=39/39 </span></div>
<div class="t n" style="left:1544.5px;top:2435px">排序<span class="l">=</span>平均速度降序<span class="l"> </span></div>
<div class="t n" style="left:1857.5px;top:2435px">过滤器<span class="l">=</span></div>
<svg style="position:absolute;left:593px;top:2449px" width="28" height="30" viewBox="0 0 28 30"><path d="M16 2 C17.2 9.5 19 12.2 26.5 15 C19 17.8 17.2 20.5 16 28 C14.8 20.5 13 17.8 5.5 15 C13 12.2 14.8 9.5 16 2Z" fill="#ffac33"/><path d="M4.5 2.5 C5 5.2 5.6 5.9 8 6.5 C5.6 7.1 5 7.8 4.5 10.5 C4 7.8 3.4 7.1 1 6.5 C3.4 5.9 4 5.2 4.5 2.5Z" fill="#ffcc4d"/><path d="M7 18.5 C7.6 22 8.4 22.8 11.5 23.5 C8.4 24.2 7.6 25 7 28.5 C6.4 25 5.6 24.2 2.5 23.5 C5.6 22.8 6.4 22 7 18.5Z" fill="#ffcc4d"/></svg>
<div class="t n" style="left:17.0px;top:2493px">测试时间<span class="cn">：</span></div>
<div class="t n" style="left:191.0px;top:2493px;letter-spacing:-.4px"><span class="l">2025-02-07 11:45:12 (CST)</span></div>
<div class="t n" style="left:629.0px;top:2493px">，本测试为试验性结果，仅供参考。</div>
</div></body></html>
